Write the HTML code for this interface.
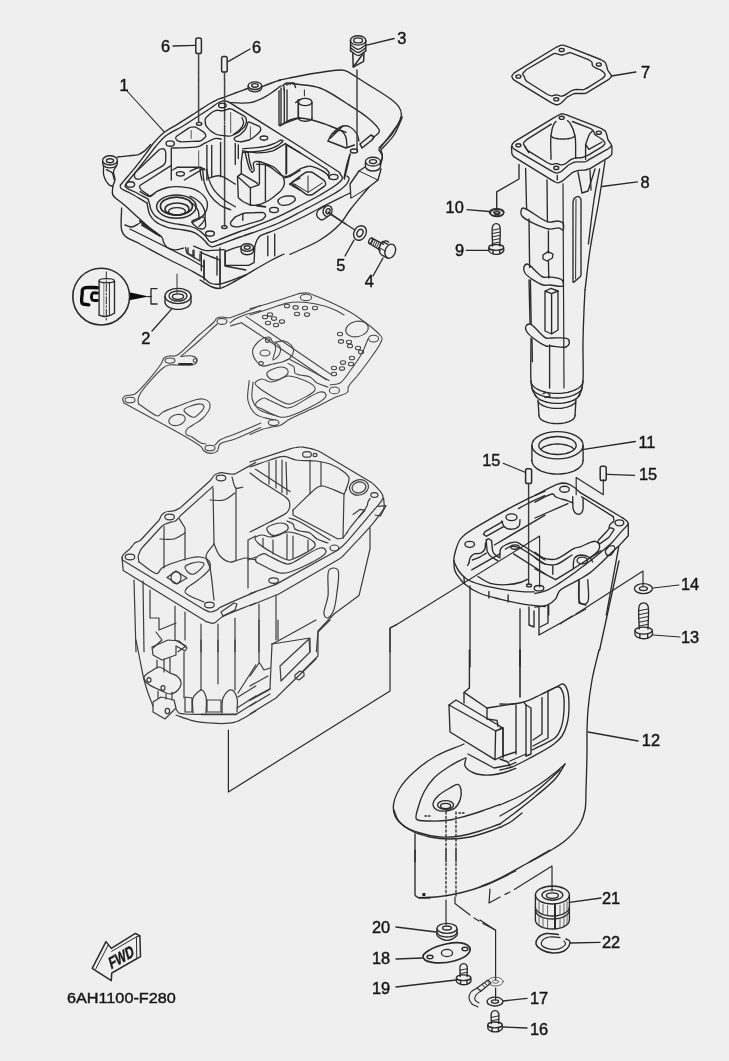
<!DOCTYPE html>
<html><head><meta charset="utf-8"><title>diagram</title><style>
html,body{margin:0;padding:0;}
body{width:729px;height:1061px;overflow:hidden;background:#efefef;font-family:"Liberation Sans",sans-serif;}
svg{position:absolute;left:0;top:0;display:block;}
.ln{fill:none;stroke:#2b2b2b;stroke-width:1.35;stroke-linecap:round;stroke-linejoin:round;}
.tx{font-family:"Liberation Sans",sans-serif;fill:#1a1a1a;stroke:#1a1a1a;stroke-width:0.45;}
</style></head><body>
<svg width="729" height="1061" viewBox="0 0 729 1061">
<defs><filter id="bl" x="-2%" y="-2%" width="104%" height="104%"><feGaussianBlur stdDeviation="0.45"/></filter></defs>
<rect width="729" height="1061" fill="#efefef"/>
<g filter="url(#bl)">
<g class="ln">
<path d="M127 91 L164 131.6" stroke-width="1.1"/>
<path d="M247.5 88.5 C243.4 90 239.5 91.5 235.3 93 C231 94.6 225.6 96.6 222 98 C219.6 98.9 218 99.4 216 100.3 C214 101.2 212.4 102.1 210 103.5 C206.3 105.7 201 109.3 196 112.5 C190.2 116.2 183.1 120.8 177.4 124.3 C172.7 127.2 168.3 129.1 164.3 132.3 C160.2 135.5 156.3 139.9 153.2 143.5 C150.7 146.5 149.4 148.8 147 152.1 C143.6 156.6 138.9 163 134.7 168.1 C130.7 173.1 124.9 179.5 122.5 182.5 C121.4 183.8 120.5 184.5 120.3 185.5 C120.1 186.4 120.3 187.4 121 188.3 C122.3 190 126.6 191.1 130 193 C134.8 195.7 141.3 199.7 147 203"/>
<path d="M340 172.7 L300 146.7 L228.5 101.9"/>
<path d="M228.5 101.9 C226.7 101.5 224.8 100.6 223 100.8 C221.3 101 219.7 102 218 103 C216 104.1 214.4 105.6 212 107.2 C208.7 109.4 204.4 112.2 200 115 C194.8 118.4 188.7 122.5 182.9 126 C177.2 129.5 170.3 132.2 165.6 136 C161.6 139.2 158.5 143.2 155.7 146.5 C153.3 149.3 151.9 151.5 149.5 154.6 C146.2 158.8 141.7 164.5 137.8 169.4 C134 174.2 128.2 180.7 126.3 183.5 C125.6 184.6 124.9 185.2 125 186 C125.1 186.8 126 187.5 127 188.3 C128.7 189.6 132 190.5 135 192 C138.8 193.9 143.7 196.7 148 199"/>
<path d="M117.4 157 C121.1 156.6 124.9 156.2 128.5 155.8 C131.9 155.4 135.6 155.5 138.4 154.6 C140.8 153.7 142.6 152.4 144.6 150.9 C146.7 149.1 148.7 146.6 150.7 144.4"/>
<path d="M134.9 177.4 Q134.1 176.2 134.4 174.7 L134.4 174.6 Q134.7 173.1 135.8 172.1 L158.9 150 Q160 149 161.5 148.9 L162.8 148.8 Q164.3 148.6 164.9 150 L165.2 150.7 Q165.8 152.1 165.8 153.6 L165.6 161.1 Q165.6 162.6 164.6 163.8 L164 164.5 Q163.1 165.7 161.8 166.4 L140.9 178.5 Q139.6 179.3 138.1 179.2 L137.4 179.1 Q135.9 179 135.1 177.8Z"/>
<ellipse cx="170.2" cy="143.5" rx="4.2" ry="2.7"/>
<ellipse cx="130.4" cy="184.4" rx="4.2" ry="2.7"/>
<ellipse cx="180.4" cy="173.8" rx="4" ry="2.2"/>
<ellipse cx="110" cy="160.4" rx="7.4" ry="4.6"/>
<ellipse cx="110" cy="160.7" rx="3.6" ry="2"/>
<path d="M102.6 161.1 C102.8 162.5 102.4 164.3 103.3 165.4 C104.4 166.8 107.7 167.8 110 167.8 C112.2 167.8 115.5 166.8 116.7 165.4 C117.6 164.3 117.2 162.5 117.4 161.1"/>
<path d="M103.6 165.7 C103.7 169 102.9 172.5 103.8 175.6 C104.8 178.9 107.3 183.3 109.3 184.9 C110.4 185.9 111.6 185.9 112.8 186.3"/>
<path d="M116.4 165.9 C115.4 167.8 113.9 169.3 113.5 171.4 C113.1 173.8 115.2 177.4 115 179.9 C114.8 182.1 113.5 183.9 112.8 185.9"/>
<path d="M106.4 169.7 C108.3 170.7 110.8 171.2 112.1 172.8 C113.5 174.5 113.5 177.6 114.3 179.9"/>
<path d="M112.8 186.3 C112.8 189.2 111.6 192.3 112.8 194.9 C114.4 198.3 119.6 200.7 123.5 204.2 C128.3 208.4 134.2 214 139.2 218.4 C143.7 222.5 148 226.5 152.1 229.9 C155.5 232.7 160.2 234.7 162 237.3 C163.3 239 162.9 241 163.8 242.7 C164.6 244.4 165.5 246.1 167 247.3 C168.9 248.7 172.2 249.7 174.9 249.8 C177.7 250 180.6 248.7 183.4 248.1"/>
<path d="M148 199 C148.5 200.7 149.1 202.3 149.6 204 C150.1 205.8 150.2 207.7 151 209.5 C151.9 211.6 153.1 213.9 155 215.7 C157.4 217.9 161.3 219.8 164.7 221.2 C168.2 222.6 172.1 223.2 175.7 223.9 C179 224.5 182.1 224.6 185.3 225.3 C188.5 226 191.8 226.5 194.9 228 C198.2 229.6 202.1 232.5 204.5 234.9 C206.3 236.7 207.2 239.1 208.6 240.4 C209.6 241.3 210.4 242.1 211.5 242.3 C212.8 242.5 214.4 241.6 216 241 C217.9 240.3 219.5 239.5 222 238.5 C226.4 236.7 235.3 233.2 240 231.5 C243 230.4 244.2 230.2 247.4 229 C253.7 226.7 265.8 222.2 274.9 218.2 C284.1 214.1 294.2 208.7 302.3 204.5 C308.9 201.1 314.1 198.4 320 195 C326 191.5 334.2 186.8 338 183.5 C340.2 181.6 342.2 180.1 342.4 178.4 C342.6 176.8 340.8 175.2 340 173.6"/>
<path d="M147 203 C147.9 206.8 148.1 211.1 149.6 214.3 C150.9 217.1 152.5 219.2 155 221.2 C158.1 223.7 162.9 225.8 167.4 227.3 C172.4 228.9 179 229 183.9 230 C188 230.8 191.5 231.1 194.9 232.8 C198.4 234.5 202.1 238 204.5 240.4 C206.3 242.1 207.2 244.1 208.6 245.2 C209.7 246 210.6 246.7 212 246.8 C214.3 247 217.5 245.2 221 244 C226.2 242.2 235.1 238.7 240 237 C243 235.9 244.1 235.7 247.4 234.5 C254.1 232.2 267.9 227.7 277.6 223.5 C287.1 219.4 297.2 213.5 305 209.5 C310.8 206.5 314.7 204.5 320 201.5 C326.2 198.1 335.2 193.5 340 190 C343.1 187.7 345.5 185.8 347 183.5 C348.2 181.7 349.3 179.3 349 178 C348.8 177.1 347.7 176.7 347 176"/>
<path d="M193.7 246.2 C197.4 247.6 200.4 249.6 204.7 250.3 C210.1 251.2 217.5 249.8 223.9 249.6"/>
<path d="M140 191.7 C143.4 193.3 147.4 196.8 150.3 196.5 C152.7 196.2 154 193 156.5 191.7 C159.5 190 163.5 188.4 167.4 187.5 C171.7 186.7 176.6 186.5 181.2 186.9 C185.7 187.2 191 188 194.9 189.6 C198.1 190.9 201 192.9 203.1 195.1 C205 197.1 206.6 199.5 207.2 201.9 C207.8 204.5 207.4 207.7 206.5 210.2 C205.6 212.7 203.7 215.2 201.7 217 C199.8 218.8 196.7 220.2 194.9 221.2 C193.8 221.8 193 222.1 192.1 222.5"/>
<path d="M192.1 222.5 Q191.4 221.2 192.8 220.6 L201 217 Q202.4 216.4 203.6 217.3 L204 217.5 Q205.2 218.4 205.3 219.9 L205.7 225.1 Q205.8 226.6 204.8 227.7 L204.2 228.3 Q203.1 229.4 201.6 229 L199.1 228.4 Q197.6 228 196.5 227 L194 224.9 Q192.8 223.9 192.1 222.6Z"/>
<path d="M140 221.2 L148.2 227.3 L156.5 233.5" stroke-width="2.2"/>
<path d="M254.8 246.2 C255.5 244.1 256 241.8 257 240 C257.9 238.4 258.9 236.9 260.2 235.9 C261.5 234.9 263.1 234.6 265 233.8 C267.7 232.7 270.8 231.8 275 230 C282.4 226.9 296.8 220.1 305 216 C310.9 213.1 314.1 211 320 208 C328.3 203.7 340 198 350 193"/>
<ellipse cx="247.2" cy="247.5" rx="6.2" ry="3.8"/>
<ellipse cx="247.2" cy="247.5" rx="3" ry="1.8"/>
<path d="M241 248.2 C241.2 249.6 240.7 251.3 241.5 252.3 C242.4 253.6 245.3 254.7 247.2 254.7 C249.1 254.7 252 253.6 253 252.3 C253.8 251.3 253.3 249.6 253.4 248.2"/>
<path d="M225.3 251.6 L225.3 265.4 L248.6 265.4 L254.1 262.6 L254.8 246.2"/>
<path d="M267.8 235.9 L267.8 255.8"/>
<path d="M274.7 233.8 L274.7 255.8"/>
<path d="M217 256.4 L217 275"/>
<path d="M201.3 251.6 L201.3 270.8"/>
<path d="M185.5 247.5 L186.9 253 L193 255.8 L193 250.3"/>
<path d="M225.3 251.6 C228.5 250.4 232.1 248.7 234.9 247.8 C236.9 247.1 238.5 246.9 240.4 246.4"/>
<path d="M142 225 L160 236" stroke-width="2"/>
<path d="M121.6 208 C121.6 215.3 120.3 225.1 121.6 230 C122.3 232.8 123.1 234.1 125 236 C128 239 134.3 241 140 244 C147.5 248 157.5 253.6 166 258 C174.1 262.2 183.1 266.3 190 270 C195.3 272.9 200.4 275.5 204 278 C206.5 279.7 207.6 282 210 283 C212.8 284.2 216 284.5 220 284 C226.7 283.2 237.2 278 245.8 275"/>
<path d="M125 225 C127.3 225.7 129.6 227.2 132 227 C134.6 226.8 137.3 224.3 140 223"/>
<path d="M130 229 L160 244 L190 259 L204 267"/>
<path d="M188 248 L188 254 L200 261 L200 254"/>
<path d="M194 250 L194 258"/>
<path d="M220 248 L220 283"/>
<path d="M225 250 L225 266 L245.8 270"/>
<path d="M204 261 L204 278"/>
<ellipse cx="176.4" cy="206.6" rx="19.8" ry="11.6" stroke-width="1.5"/>
<ellipse cx="176.4" cy="206.2" rx="16" ry="9" stroke-width="1.7"/>
<ellipse cx="177" cy="209" rx="12" ry="6" stroke-width="1.5"/>
<ellipse cx="177" cy="211.4" rx="8.4" ry="3.8"/>
<path d="M171 165.6 L140.3 185.2 Q139 186 139.7 187.3 L140.3 188.7 Q141 190 142.2 190.8 L148.8 195.2 Q150 196 151.3 195.2 L155 193"/>
<path d="M200 168 C200.2 170 200.3 172 200.6 174 C200.9 176 201.5 178 202 180"/>
<path d="M198.6 80 L198.6 122.3" stroke-width="1.5" stroke="#444"/>
<ellipse cx="199.1" cy="123.8" rx="2.7" ry="1.5"/>
<path d="M224.6 80 L224.6 120.4" stroke-width="1.5" stroke="#444"/>
<path d="M224.6 125.3 L224.6 226.1" stroke-width="1.5" stroke="#444"/>
<path d="M224.6 121.9 L224.6 123.8" stroke-width="1.5" stroke="#444"/>
<ellipse cx="224.4" cy="227.1" rx="2.7" ry="1.5"/>
<ellipse cx="254.9" cy="85.7" rx="6.8" ry="3.8"/>
<ellipse cx="254.9" cy="85.4" rx="3.3" ry="1.8"/>
<path d="M248.1 86.3 C248.2 87.3 247.9 88.5 248.5 89.4 C249.5 90.6 252.8 91.8 254.9 91.8 C257 91.8 260.2 90.6 261.2 89.4 C261.9 88.5 261.5 87.3 261.7 86.3"/>
<path d="M261.7 86.8 C264.9 85.5 268.3 84.2 271.5 83 C274.6 81.9 277.5 81 280.5 80"/>
<ellipse cx="222.4" cy="105.4" rx="3.8" ry="2.3"/>
<path d="M286.6 144.9 L300 152.7"/>
<path d="M230.7 102.6 C237.3 102.6 244.4 103.8 250.4 102.6 C255.8 101.6 261.2 98.9 265.4 96.6 C269 94.8 271.8 92.5 274.5 90.6 C276.7 89 278.5 87.5 280.5 86"/>
<path d="M279 90.6 L279 125.3 L300 117.7"/>
<path d="M284.3 89.1 L284.3 123.5"/>
<path d="M282 86 C283.6 85 284.8 83.4 286.6 83 C288.7 82.6 292.7 83.4 294.1 84.5 C295.1 85.3 295.1 86.5 295.6 87.5"/>
<path d="M295.6 102.6 L300 99.6"/>
<path d="M298.3 99.6 L298.3 117.7"/>
<path d="M205.1 120.5 Q204.9 118.5 206.4 117.2 L210.2 113.7 Q211.7 112.3 213.6 111.5 L215.4 110.7 Q217.2 109.9 219.1 110.4 L219.4 110.5 Q221.3 111 223.3 110.6 L223.5 110.6 Q225.4 110.3 227.2 109.4 L227.2 109.4 Q228.9 108.5 230.6 108.9 L230.6 108.9 Q232.3 109.3 234 110.3 L244.3 116.2 Q246 117.1 246.3 119.1 L246.4 120 Q246.7 121.9 245.9 123.8 L245.4 124.9 Q244.7 126.7 243.2 128.1 L239.3 131.6 Q237.8 132.9 236 133.7 L232.1 135.5 Q230.2 136.4 228.3 136.1 L219.2 135.2 Q217.2 135 215.5 134 L212.1 131.9 Q210.4 130.9 209 129.4 L206.9 126.9 Q205.6 125.4 205.4 123.4Z"/>
<path d="M175.7 138.4 Q175.4 137 176.9 136 L188.3 128.4 Q189.8 127.4 191.6 127.2 L193.5 127 Q195.3 126.7 196.8 127.7 L203.4 131.9 Q204.9 132.9 205.5 134.6 L205.6 134.7 Q206.2 136.4 204.9 137.5 L202.1 140 Q200.8 141.2 199 141.2 L181.3 141.8 Q179.5 141.8 177.9 140.9 L177.6 140.7 Q176.1 139.8 175.7 138.4Z"/>
<path d="M191.2 130.5 L191.2 138.4" stroke-width="1" stroke="#555"/>
<path d="M172.6 148 C181.1 147.6 192.3 148.1 198 146.6 C201.1 145.8 202.3 144.4 204.9 143.2 C208.1 141.7 212.8 138.9 215.8 138.4 C217.9 138.1 219.5 138.9 221.3 139.1"/>
<path d="M171.3 148 L171.3 180"/>
<path d="M198.7 150.8 L198.7 165.8" stroke-width="1" stroke="#555"/>
<path d="M206.9 145.3 L206.9 180"/>
<path d="M211.7 145.3 L211.7 176.8"/>
<path d="M220.6 142.5 L220.6 176.8"/>
<path d="M172.6 170 L177.4 167.2 L200.8 167.2 L204.9 170"/>
<path d="M184.3 180 L203.5 168.6"/>
<path d="M242.7 150.8 C247.3 151.4 251.7 152.8 256.5 152.8 C261.7 152.9 268.3 152.3 272.9 150.8 C276.7 149.5 280.3 146.6 282.5 145.3 C283.7 144.6 284.4 144.2 285.3 143.6"/>
<path d="M285.3 143.6 L326.4 169.3"/>
<path d="M326.4 169.3 C327.3 170.4 329 171.6 329.2 172.7 C329.3 173.6 328.2 174.5 327.8 175.4"/>
<path d="M286 145.3 L286 174.1"/>
<path d="M256.5 164.1 C260.1 164.6 263.8 164.1 267.4 165.5 C272 167.2 277.5 173.4 281.2 175.1 C283.3 176.1 284.4 176.7 286.6 176.5 C290.5 176 297.6 170 301.7 168.2 C304.4 167.1 306.2 166.2 308.6 166.2 C311.2 166.1 314 167 316.8 168.2 C320.3 169.7 326 172.9 327.8 175.1 C328.8 176.3 328.7 177.4 329.2 178.5"/>
<path d="M242.1 117.7 C242.6 119.5 243.8 121.2 243.6 123 C243.3 125.2 241.4 127.9 239.8 129.8 C238.2 131.7 235.8 132.8 233.8 134.3"/>
<path d="M247.7 123 Q248.1 121.5 249.5 122.1 L258.8 126.2 Q260.2 126.8 260.5 128.2 L260.6 129.1 Q260.9 130.6 259.9 131.6 L257.5 134 Q256.4 135.1 255.2 136 L251.6 138.7 Q250.4 139.6 248.9 140 L242.8 141.5 Q241.3 141.9 239.8 141.7 L236.8 141.3 Q235.3 141.1 234.6 139.8 L234.4 139.4 Q233.8 138.1 235.1 137.4 L238.5 135.7 Q239.8 135.1 240.9 134 L244 130.9 Q245.1 129.8 245.7 128.4 L246.8 125.9 Q247.3 124.5 247.7 123.1Z"/>
<ellipse cx="263.9" cy="138.1" rx="3.8" ry="2.1"/>
<path d="M242.8 148.7 C246.3 148.4 249.7 148.3 253.4 147.9 C257.3 147.5 261.8 147.2 265.4 146.4 C268.7 145.7 271.8 144.5 274.5 143.4 C276.8 142.4 278.5 141.2 280.5 140.1"/>
<path d="M242.8 152.4 C246.8 152.2 250.8 152.1 254.9 151.7 C259.3 151.2 264.5 150.6 268.5 149.4 C271.9 148.4 275.1 147.1 277.5 145.6 C279.5 144.5 280.7 143.1 282.3 141.9"/>
<path d="M280.5 140.1 C281.3 140.2 282.6 140 282.8 140.4 C283 140.7 282.5 141.4 282.3 141.9"/>
<path d="M230.7 112.4 L230.7 132.8" stroke-width="1" stroke="#555"/>
<path d="M250.4 126.8 L250.4 138.9" stroke-width="1" stroke="#555"/>
<path d="M242.8 150.9 L241.3 161.5 L241.3 173.6 L256.4 182.6 L258.7 184.9 L250.4 187.9 L237.5 176.6 L241.3 173.6"/>
<path d="M237.5 176.6 L238.3 197.7 L242.8 201.5 L250.4 205.2"/>
<path d="M250.4 187.9 L250.4 205.2"/>
<path d="M245.1 152.4 C245.8 155.4 246.6 158.6 247.3 161.5 C248.1 164.1 248.6 167.1 249.6 169 C250.3 170.4 251.3 171.2 252.2 172.3"/>
<path d="M248.1 152.4 C248.6 155.4 248.9 158.6 249.6 161.5 C250.2 164.1 251.1 166.5 251.9 169"/>
<path d="M252.2 172.3 C252.8 171.7 253.8 171.5 254.1 170.5 C254.7 169.1 252.9 165.3 253.4 163.7 C253.7 162.7 254.4 161.9 255.2 161.5 C256.1 161.1 257.3 161.3 258.7 161.5 C260.6 161.8 263 162.8 265.4 163.7 C268.3 164.8 271.9 165.8 274.5 167.5 C276.9 169.1 278.9 171.6 280.5 173.6 C281.8 175.1 282.9 176.4 283.6 178.1 C284.2 179.9 284.6 182.2 284.3 184.1 C284 186.2 282.7 188.3 281.3 190.2 C279.6 192.3 277 194.3 274.5 196.2 C271.8 198.3 268.6 200.7 265.4 202.2 C262.5 203.7 259.1 204.8 256.4 205.2 C254.2 205.6 252.4 205.2 250.4 205.2"/>
<path d="M259.4 162.2 L259.4 184.1"/>
<path d="M265.4 164.5 L265.4 200.7"/>
<path d="M235.3 143.4 L235.3 164.5"/>
<path d="M238.3 144.9 L238.3 158.5"/>
<path d="M256.4 205.5 L265.4 206.8" stroke-width="1.8"/>
<path d="M283.6 178.1 L289.6 176.6 L300 170.5"/>
<path d="M286.6 145.2 L286.6 173.6"/>
<path d="M289.6 184.1 L300 190.2"/>
<path d="M289.6 184.1 L295.6 180.3 L300 178.1"/>
<path d="M242.8 214.3 L242.8 220.3"/>
<path d="M190 196.2 C192 197.2 194.1 197.8 196 199.2 C198.2 200.8 200.6 202.9 202.1 205.2 C203.6 207.5 204.7 210.2 205.1 212.8 C205.4 215.3 205.3 218.1 204.3 220.3 C203.3 222.6 200.8 224.4 199.1 226.4"/>
<path d="M190 202.2 C191.5 203.2 193.2 203.9 194.5 205.2 C196 206.8 197.5 209.1 198.3 211.3 C199.1 213.6 198.8 216.3 199.1 218.8"/>
<path d="M202.8 170.5 C203.3 174.6 203.2 178.7 204.3 182.6 C205.5 186.7 207.1 191 209.6 194.7 C212.3 198.6 216.4 202.7 220.2 205.2 C223.5 207.5 227.2 208.3 230.7 209.8"/>
<path d="M206.6 169 C207.4 172.6 207.7 176.1 208.9 179.6 C210.1 183.2 211.8 186.9 214.1 190.2 C216.6 193.5 219.8 196.5 223.2 199.2 C226.8 202.1 231.2 204.2 235.3 206.8"/>
<path d="M190 171.3 C193 170 196.4 167.7 199.1 167.5 C201 167.4 202.6 168.5 204.3 169"/>
<path d="M208.1 178.1 C212.1 177.3 216.1 175.2 220.2 175.8 C225.1 176.6 230.2 181.4 235.3 184.1"/>
<path d="M279 80.2 C282 79.6 284.3 79.1 288 78.4 C293.7 77.3 302 75.3 310 74 C319.6 72.4 336 69.6 342 70 C344.4 70.2 344.9 70.5 347 71.4 C351.1 73.2 357.6 78 364 82 C372.2 87.2 385.9 95.1 392 100 C395.3 102.7 397.4 104.5 399 107 C400.4 109.2 401.3 111.7 401.4 114 C401.5 116.1 400.9 117.7 400 120 C398.5 123.8 395.3 129.5 392 134 C388.4 138.9 383.3 143.3 379 148"/>
<path d="M402.4 117 C399.6 123 397.5 129.6 394 135 C390.5 140.3 385.6 144.6 381.4 149.4"/>
<path d="M296 84 C304 85.3 312.1 85.2 320 88 C328.8 91.1 337.8 97.8 346 103 C353.7 107.9 362.3 113.2 368 118 C372.2 121.5 376.3 125.3 378 128 C378.9 129.4 379.7 130.4 379.4 131.6 C379 133.3 375.8 135.2 374 137"/>
<path d="M286 84.4 L293 82.6 L296 84.4"/>
<path d="M287 85.6 L289 83.6" stroke-width="1"/>
<path d="M290 85 L292 83" stroke-width="1"/>
<path d="M281 88 L281 124"/>
<path d="M287 90 L287 122"/>
<path d="M284 86 L284 90"/>
<path d="M280 126 C283.3 124 286.8 121.3 290 120 C292.7 118.9 294.9 118.2 298 118 C302 117.8 307.1 118.8 312 120 C317.7 121.3 324.2 123.9 330 126 C335.5 128 340.7 130.3 346 132.4"/>
<ellipse cx="305.2" cy="102" rx="6.8" ry="3.6"/>
<path d="M298.4 102.4 L298.4 118"/>
<path d="M312 102.4 L312 118.4"/>
<path d="M312 118 C312 118.2 312 118.3 311.9 118.5 C311.9 118.6 311.8 118.8 311.7 118.9 C311.6 119.1 311.5 119.2 311.4 119.3 C311.2 119.5 311.1 119.6 310.9 119.7 C310.7 119.9 310.5 120 310.3 120.1 C310.1 120.2 309.9 120.3 309.7 120.4 C309.4 120.5 309.1 120.6 308.9 120.7 C308.6 120.8 308.3 120.8 308 120.9 C307.7 121 307.4 121 307.1 121.1 C306.8 121.1 306.5 121.1 306.2 121.2 C305.8 121.2 305.5 121.2 305.2 121.2 C304.9 121.2 304.6 121.2 304.2 121.2 C303.9 121.1 303.6 121.1 303.3 121.1 C303 121 302.7 121 302.4 120.9 C302.1 120.8 301.8 120.8 301.5 120.7 C301.3 120.6 301 120.5 300.7 120.4 C300.5 120.3 300.3 120.2 300.1 120.1 C299.9 120 299.7 119.9 299.5 119.7 C299.3 119.6 299.2 119.5 299 119.3 C298.9 119.2 298.8 119.1 298.7 118.9 C298.6 118.8 298.5 118.6 298.5 118.5 C298.4 118.3 298.4 118.2 298.4 118"/>
<path d="M304.4 90 L304.4 96" stroke-width="1"/>
<path d="M328 141 C329.3 138.7 330 136.2 332 134 C334.6 131.1 339.6 126.8 343 126 C345.5 125.4 347.8 125.9 350 127 C352.6 128.3 355.5 131.5 357 134 C358.3 136.2 358.3 138.7 359 141"/>
<path d="M328 141 L346 148 L354.4 145"/>
<path d="M332 134 C334.7 132.8 337.7 129.9 340 130.4 C342.2 130.8 344.4 133.9 345.6 136.4 C346.9 139.1 346.5 143.1 347 146.4"/>
<path d="M343 126 L330 138.4"/>
<path d="M357 70 L357 150.4" stroke-width="1.5" stroke="#444"/>
<path d="M360 144 L371 135 L374 137 L372 140 L362 148 L360 144" stroke-width="1.6"/>
<ellipse cx="354" cy="151" rx="3.6" ry="2"/>
<ellipse cx="373" cy="161.6" rx="7.6" ry="4.4"/>
<ellipse cx="373" cy="161.6" rx="3.6" ry="2"/>
<path d="M365.4 162.4 C365.6 164.3 365 166.6 366 168 C367.2 169.6 370.7 171 373 171 C375.3 171 378.8 169.6 380 168 C381 166.6 380.4 164.3 380.6 162.4"/>
<path d="M350 154 C349.3 157.3 348.8 160.3 348 164 C347 168.5 345.6 174 344.4 179"/>
<path d="M381 150 C381.5 152 382.4 154 382.4 156 C382.4 158 381.5 160 381 162"/>
<path d="M401 120 L379 150" stroke-width="1.2"/>
<path d="M380.4 165 C381.1 162 382.8 158.6 382.4 156 C382.1 153.7 380.1 152 379 150"/>
<path d="M365 167 L359 171 L350 184 L351 198 L369 187 L378 180 L381 169"/>
<path d="M359 171 L378 180" stroke-width="1"/>
<path d="M352.0 186.0 L368.0 176.0 L369.0 186.4 L351.6 197.2 Z" fill="#efefef" stroke="none"/>
<path d="M350 154.4 C349 157.6 347.9 160.5 347 164 C345.9 168.2 345 173.3 344 178"/>
<ellipse cx="327.6" cy="211" rx="4.4" ry="5.4" transform="rotate(20 327.6 211)"/>
<ellipse cx="328" cy="211.2" rx="2" ry="2.6" transform="rotate(20 328 211.2)"/>
<path d="M324.4 206.4 C322.1 207.9 318.7 209.1 317.6 211 C316.7 212.5 316.4 214.6 317 216 C317.7 217.6 320.2 219.9 322 220 C323.8 220.1 325.7 217.7 327.6 216.6"/>
<path d="M330 214 L355 230"/>
<ellipse cx="360" cy="233" rx="6" ry="7.6" transform="rotate(30 360 233)"/>
<ellipse cx="360" cy="233" rx="2.8" ry="3.8" transform="rotate(30 360 233)"/>
<path d="M354 240 L345 256"/>
<ellipse cx="390.2" cy="251.2" rx="5.1" ry="7.2" transform="rotate(20 390.2 251.2)"/>
<path d="M381.3 254.3 C381.1 254.2 380.9 254 380.8 253.9 C380.6 253.7 380.4 253.5 380.3 253.3 C380.1 253 380 252.8 379.8 252.5 C379.7 252.3 379.6 252 379.5 251.7 C379.4 251.4 379.4 251.1 379.3 250.8 C379.3 250.5 379.2 250.2 379.2 249.9 C379.2 249.6 379.2 249.2 379.2 248.9 C379.3 248.6 379.3 248.2 379.4 247.9 C379.4 247.5 379.5 247.2 379.6 246.9 C379.7 246.5 379.8 246.2 379.9 245.9 C380.1 245.6 380.2 245.3 380.4 244.9 C380.5 244.6 380.7 244.3 380.9 244.1 C381.1 243.8 381.3 243.5 381.5 243.3 C381.7 243 381.9 242.8 382.2 242.6 C382.4 242.3 382.6 242.1 382.9 242 C383.1 241.8 383.4 241.6 383.6 241.5 C383.9 241.4 384.1 241.3 384.4 241.2 C384.7 241.1 384.9 241 385.2 241 C385.4 240.9 385.7 240.9 385.9 240.9 C386.2 240.9 386.4 241 386.7 241 C386.9 241.1 387.2 241.2 387.4 241.3 C387.6 241.4 387.8 241.5 388 241.6 C388.2 241.8 388.4 242 388.6 242.1"/>
<path d="M382.3 241.4 L387.9 244.3"/>
<path d="M381.8 255.2 L387.6 258.1"/>
<path d="M380 247.9 L385.6 251.2" stroke-width="1"/>
<path d="M371.9 238.1 L383.6 244.3"/>
<path d="M369.1 243.5 L380.3 250.2"/>
<ellipse cx="370.5" cy="240.7" rx="1.5" ry="3" transform="rotate(25 370.5 240.7)"/>
<path d="M373.7 239.1 L370.9 244.5" stroke-width="1"/>
<path d="M375.6 240 L372.8 245.6" stroke-width="1"/>
<path d="M377.4 241 L374.6 246.6" stroke-width="1"/>
<path d="M379.2 242 L376.4 247.6" stroke-width="1"/>
<path d="M381 243 L378.2 248.7" stroke-width="1"/>
<path d="M383 258 L373 276"/>
<path d="M369 187 C362.7 194.7 355.2 203.2 350 210 C346 215.2 344.3 219.5 340 224 C334.8 229.5 327.7 235.2 320 240 C311.3 245.5 300 249.6 290 254.4"/>
<ellipse cx="333.6" cy="177" rx="4.4" ry="2.6"/>
<path d="M292.2 183.9 Q291 183 292.2 182.1 L304.8 172.9 Q306 172 307.5 172 L310.5 172 Q312 172 313.2 172.9 L323.8 180.1 Q325 181 325.4 182.5 L325.6 183.5 Q326 185 324.8 185.9 L313.2 194.1 Q312 195 310.5 195 L308.5 195 Q307 195 305.8 194.1Z"/>
<path d="M308 176 L308 192.4" stroke-width="1"/>
<path d="M294 183.6 L308 192.4 L322.4 183" stroke-width="1"/>
<path d="M278.4 202.6 Q277 200 279.6 198.5 L281.4 197.5 Q284 196 287 196 L291 196 Q294 196 295 198 L295 198 Q296 200 293.6 201.7 L291.4 203.3 Q289 205 286 205.2 L283 205.4 Q280 205.6 278.6 203Z"/>
<ellipse cx="274" cy="210" rx="4.4" ry="2.6"/>
<path d="M230.8 224.3 Q230 223 231 221.8 L234 218.2 Q235 217 236.4 216.4 L242.6 213.6 Q244 213 245.5 213 L262.5 212.4 Q264 212.4 264.7 213.7 L265.3 214.7 Q266 216 264.9 217.1 L263.1 218.9 Q262 220 260.6 220.4 L239.4 226.6 Q238 227 236.5 226.9 L233.5 226.5 Q232 226.4 231.2 225.1Z"/>
<ellipse cx="210" cy="233.6" rx="4.4" ry="2.6"/>
<path d="M200 252 C204 253.7 208.4 255.6 212 257 C214.9 258.2 217.3 259 220 260"/>
<path d="M200 280 C204 282.3 208.3 285.6 212 287 C214.8 288 217.6 288.7 220 288.4 C222.2 288.2 223.1 287.4 226 286 C234 282.2 259.4 266.7 270 261 C275.9 257.8 279.3 256.3 284 254"/>
<path d="M204 260 L204 280"/>
<path d="M220 260 L220 288"/>
<path d="M328 212 L345.8 224"/>
<path d="M512.1 77.3 Q511.5 76.2 512.2 75.3 L513.3 73.9 Q514 72.9 515 72.3 L554.9 48 Q556 47.4 557.1 46.9 L560.6 45.4 Q561.7 44.9 562.9 45.2 L565.5 45.9 Q566.7 46.3 567.8 46.7 L599.3 59 Q600.4 59.4 601.5 60 L604.3 61.6 Q605.3 62.2 605.7 63.4 L606.6 66 Q607 67.2 607.3 68.3 L607.5 69.3 Q607.8 70.5 608.5 71.4 L611.2 75.2 Q611.9 76.2 611.1 77.1 L609.5 78.7 Q608.6 79.5 607.6 80.1 L590.7 90.4 Q589.7 91 588.7 91.6 L586.6 92.9 Q585.6 93.5 584.4 93.5 L575.3 93.5 Q574.1 93.5 573 94 L568.6 96.3 Q567.5 96.8 566.6 97.6 L561.8 102.5 Q560.9 103.4 559.8 103.8 L557.9 104.6 Q556.8 105 555.7 104.6 L553.8 103.8 Q552.7 103.4 551.6 102.8 L514.2 80.1 Q513.2 79.5 512.6 78.4Z"/>
<path d="M524.7 77.9 Q524.7 77 524 76.1 L522.9 74.7 Q522.2 73.7 523.1 72.9 L525.5 70.5 Q526.3 69.6 527.4 69 L553.3 53.8 Q554.3 53.2 555.5 53.5 L556.4 53.7 Q557.6 54 558.8 54.3 L560.6 54.8 Q561.7 55.1 562.9 54.8 L564.7 54.3 Q565.8 54 567 53.5 L568.8 52.8 Q570 52.3 571.1 52.8 L587.8 59.3 Q588.9 59.8 589.8 60.5 L591.2 61.5 Q592.2 62.2 592.2 63.4 L592.2 64.3 Q592.2 65.5 593.1 66.2 L594.5 67.3 Q595.5 68 596.6 68.4 L599.3 69.3 Q600.4 69.6 601.3 70.4 L603.6 72.2 Q604.5 72.9 604.9 74.1 L605 74.3 Q605.3 75.4 604.6 76.3 L603.7 77.3 Q602.9 78.2 601.9 78.8 L588.3 87.4 Q587.2 88.1 586.1 88.5 L584.2 89.3 Q583.1 89.7 581.9 89.7 L576.1 89.4 Q574.9 89.4 573.8 89.8 L571.9 90.6 Q570.8 91 569.8 91.7 L566 94.4 Q565 95.1 563.9 95.5 L562.1 96 Q560.9 96.3 559.8 95.9 L557.9 95.1 Q556.8 94.7 555.6 95 L553 95.7 Q551.9 96 550.7 95.7 L549.7 95.4 Q548.6 95.1 547.5 94.5 L527.4 81.8 Q526.3 81.2 525.7 80.2 L525.4 79.7 Q524.7 78.7 524.7 77.9Z"/>
<ellipse cx="561.7" cy="49.9" rx="2.5" ry="1.6"/>
<ellipse cx="518.4" cy="76.5" rx="2.5" ry="1.6"/>
<ellipse cx="598.8" cy="64.4" rx="2.5" ry="1.6"/>
<ellipse cx="556.3" cy="99.3" rx="2.5" ry="1.6"/>
<path d="M611.4 76 L635.8 72"/>
<path d="M512.1 146.4 Q511.5 145.3 512.2 144.4 L513.3 143 Q514 142 515 141.4 L554.9 117.1 Q556 116.5 557 116 L560.7 114.1 Q561.7 113.6 562.9 113.9 L565.5 114.6 Q566.7 114.9 567.8 115.3 L599.3 127.6 Q600.4 128 601.4 128.7 L604.3 130.4 Q605.3 131 605.8 132.1 L606.6 134.3 Q607 135.5 607.2 136.6 L607.6 138.4 Q607.8 139.6 608.5 140.5 L611.2 144.4 Q611.9 145.3 611.1 146.2 L609.5 147.8 Q608.6 148.6 607.6 149.2 L590.8 158.7 Q589.7 159.3 588.7 159.9 L586.6 161.2 Q585.6 161.8 584.4 161.8 L576.1 161.8 Q574.9 161.8 573.8 162.3 L569.4 164.5 Q568.3 165.1 567.4 165.9 L561.8 170.9 Q560.9 171.7 559.8 172.1 L557.9 172.9 Q556.8 173.3 555.7 172.9 L553.8 172.1 Q552.7 171.7 551.6 171.1 L514.2 149.2 Q513.2 148.6 512.6 147.5Z"/>
<path d="M511.5 146.2 L511.8 152.9 Q511.9 154.4 512.8 155.5 L513 155.7 Q514 156.9 515.3 157.6 L551.4 179.9 Q552.7 180.7 554 181.4 L556.3 182.5 Q557.6 183.2 559 182.6 L561.2 181.6 Q562.6 181 563.7 180.1 L571.3 173.5 Q572.4 172.5 573.8 171.9 L576 171.1 Q577.4 170.5 578.9 170.4 L584.1 170.1 Q585.6 170 587 169.5 L589.1 168.8 Q590.5 168.4 591.8 167.6 L608.2 157.6 Q609.5 156.9 610.5 155.8 L610.9 155.4 Q611.9 154.4 611.9 152.9 L611.9 145.8"/>
<path d="M557.3 175.5 L557.3 179.9"/>
<path d="M551.4 124.1 L528.2 138.6 Q527.2 139.2 526.3 140.1 L523.9 142.4 Q523 143.2 523.6 144.2 L524.1 145.1 Q524.7 146.2 525.3 147.2 L526.5 149.2 Q527.2 150.3 528.2 150.9 L546.7 162.3 Q547.7 162.9 548.9 163.4 L550.7 164.1 Q551.9 164.6 553 164.3 L555.6 163.7 Q556.8 163.4 557.9 163.9 L559.8 164.6 Q560.9 165.1 562.1 164.8 L563.9 164.3 Q565 163.9 566 163.2 L569.8 160.4 Q570.8 159.7 571.9 159.2 L573.8 158.4 Q574.9 158 576.1 158 L581.1 157.7 Q582.3 157.7 583.4 157.2 L587 155.7 Q588.1 155.2 589.1 154.6 L601.9 146.8 Q602.9 146.2 603.7 145.3 L604.5 144.5 Q605.3 143.7 604.8 142.6 L604.2 141.5 Q603.7 140.4 602.7 139.7 L599.8 137.8 Q598.8 137.1 597.7 136.5 L595.7 135.2 Q594.7 134.6 594.4 133.5 L594.1 132.5 Q593.8 131.3 593 130.5 L592.2 129.7 Q591.4 128.9 590.2 128.4 L572.4 121.5"/>
<ellipse cx="561.7" cy="117.8" rx="2.5" ry="1.6"/>
<ellipse cx="518.4" cy="145.3" rx="2.5" ry="1.6"/>
<ellipse cx="598.8" cy="132.7" rx="2.5" ry="1.6"/>
<ellipse cx="556.3" cy="167.9" rx="2.5" ry="1.6"/>
<path d="M551 159.3 C551 151.4 550.3 141.8 551 135.5 C551.5 131.1 552.4 127.2 553.5 124.8 C554.2 123.2 555.1 122.6 556 121.5"/>
<path d="M575.7 157.7 C575.4 150.3 576.2 141.7 574.9 135.5 C573.9 130.6 571.6 125.6 570 123.1 C569.1 121.8 568.3 121.5 567.5 120.6"/>
<path d="M574.7 135.5 C574.7 135.6 574.7 135.8 574.6 136 C574.5 136.1 574.4 136.3 574.3 136.5 C574.1 136.6 573.9 136.8 573.7 137 C573.4 137.1 573.1 137.3 572.9 137.4 C572.5 137.6 572.2 137.7 571.8 137.8 C571.5 138 571.1 138.1 570.6 138.2 C570.2 138.3 569.8 138.4 569.3 138.5 C568.8 138.6 568.3 138.7 567.8 138.7 C567.3 138.8 566.8 138.9 566.2 138.9 C565.7 139 565.1 139 564.6 139 C564 139.1 563.4 139.1 562.9 139.1 C562.3 139.1 561.8 139.1 561.2 139 C560.6 139 560.1 139 559.5 138.9 C559 138.9 558.5 138.8 558 138.7 C557.5 138.7 557 138.6 556.5 138.5 C556 138.4 555.6 138.3 555.1 138.2 C554.7 138.1 554.3 138 553.9 137.8 C553.6 137.7 553.2 137.6 552.9 137.4 C552.6 137.3 552.3 137.1 552.1 137 C551.9 136.8 551.7 136.6 551.5 136.5 C551.4 136.3 551.2 136.1 551.1 136 C551.1 135.8 551.1 135.6 551 135.5"/>
<path d="M585.6 144.5 C587 140.9 588.3 136 589.7 133.8 C590.5 132.6 591.4 132.2 592.2 131.3"/>
<path d="M585.6 159.3 L585.6 144.5 L588.9 149.4 L602.1 142"/>
<path d="M524.7 146.2 L528.8 152.7"/>
<path d="M602 186.5 L637.4 181.9"/>
<path d="M519 164.5 L519 179 L496.7 191.9 L496.7 208"/>
<path d="M521 211 C521.2 209.8 521.7 208.3 523 208 C526.6 207.1 541.4 220.6 548 222 C551.9 222.8 555.3 220.6 558 221 C560 221.3 562.1 221.7 563 223 C564 224.5 563.9 229.4 563 230 C562.3 230.5 560.7 228.3 559 228 C556.5 227.5 553 229.7 549 229 C542.1 227.8 525.2 220.1 522 216 C520.7 214.3 520.7 212.4 521 211Z"/>
<path d="M525.6 168.4 L526.6 209.6"/>
<path d="M529 219 L529.6 267.6"/>
<path d="M530.4 280 L531.2 324.4"/>
<path d="M532 339 L532.4 361.8"/>
<path d="M547 180 L547.4 221"/>
<path d="M548.4 231 L548.4 253"/>
<path d="M548.4 260.4 L548.8 278"/>
<path d="M549.6 345 L549.6 388"/>
<path d="M563 183.6 L564 388" stroke-width="1.2"/>
<path d="M573.6 199.8 Q574 198.4 575.3 197.6 L576.7 196.8 Q578 196 579.2 196.9 L579.8 197.5 Q581 198.4 581 199.9 L581 274.5 Q581 276 579.9 277 L574.1 282 Q573 283 573 281.5 L573 203.1 Q573 201.6 573.4 200.2Z"/>
<path d="M576 199.6 L575.6 279" stroke-width="1"/>
<path d="M605 161 C603 174 601.3 186.2 599 200 C596.4 215.6 592.4 234.2 590 250 C587.9 264 586.7 276.7 585 290"/>
<path d="M599.6 169 C597.7 179.3 595.7 188.7 594 200 C591.9 213.4 590.3 229.3 588.4 244"/>
<path d="M578 172 L582 193 L588 191 L595 169"/>
<path d="M590 170 L591 190"/>
<ellipse cx="497" cy="213" rx="6.6" ry="3.6"/>
<ellipse cx="497" cy="213" rx="2.8" ry="1.4"/>
<path d="M529 280 L530 323"/>
<path d="M531 338 C531 352.3 530.3 372 531 381 C531.3 385.1 531.4 387.3 532.4 390 C533.3 392.6 535.1 394.7 536.4 397"/>
<path d="M585 290 C584.7 296.7 584.3 302.6 584 310 C583.6 319.4 583.2 330.9 583 342 C582.8 354.1 583.6 371.4 583 380 C582.7 384.4 582.5 387 581.6 390 C580.8 392.6 579.2 394.7 578 397"/>
<path d="M543 255 L548 251.6 L553 254 L552.4 258 L547 261 L543 259 L543 255"/>
<path d="M524 267 C524.4 265.7 525.6 264.1 527 264 C530.2 263.8 538.5 275.4 543 277 C545.6 277.9 547.4 276.7 550 277 C553.5 277.4 560.1 277.9 562 280 C563.4 281.5 564 284.9 563 286 C561.5 287.6 553.7 285.1 550 285 C547.3 284.9 545.7 285.8 543 285 C538.2 283.5 527.5 276.9 525 273 C523.7 271 523.5 268.6 524 267Z"/>
<path d="M545 291 L545 331 L551.6 334 L551.6 293.6 L545 291 L551 288.4 L558 291 L558 330 L551.6 334"/>
<path d="M551.6 293.6 L558 291"/>
<path d="M526 326 C526.6 324.8 528.3 323.8 530 324 C533.7 324.5 541.7 336.4 546 338 C548.3 338.9 549.5 337.9 552 338 C556.1 338.1 565.7 337 568 339 C569.3 340.1 569.4 342.6 569 344 C568.6 345.2 567.6 346.4 566 347 C563 348.1 554.7 346.1 551 346 C548.9 345.9 548.1 346.7 546 346 C541.5 344.5 529.6 336.2 527 332 C525.7 329.9 525.3 327.3 526 326Z"/>
<path d="M583 381 C582.9 381.6 582.9 382.2 582.7 382.8 C582.6 383.4 582.3 383.9 581.9 384.5 C581.6 385.1 581.1 385.6 580.7 386.2 C580.1 386.7 579.5 387.2 578.9 387.7 C578.2 388.2 577.4 388.7 576.6 389.1 C575.8 389.6 574.9 390 574 390.4 C573.1 390.8 572.1 391.1 571.1 391.4 C570 391.8 568.9 392 567.8 392.3 C566.7 392.5 565.5 392.7 564.3 392.9 C563.1 393.1 561.9 393.2 560.7 393.3 C559.5 393.4 558.2 393.4 557 393.4 C555.8 393.4 554.5 393.4 553.3 393.3 C552.1 393.2 550.9 393.1 549.7 392.9 C548.5 392.7 547.3 392.5 546.2 392.3 C545.1 392 544 391.8 542.9 391.4 C541.9 391.1 540.9 390.8 540 390.4 C539.1 390 538.2 389.6 537.4 389.1 C536.6 388.7 535.8 388.2 535.1 387.7 C534.5 387.2 533.9 386.7 533.3 386.2 C532.9 385.6 532.4 385.1 532.1 384.5 C531.7 383.9 531.4 383.4 531.3 382.8 C531.1 382.2 531.1 381.6 531 381"/>
<path d="M582.3 387 C582.1 387.6 582 388.2 581.7 388.7 C581.5 389.3 581.1 389.8 580.7 390.3 C580.2 390.9 579.7 391.4 579.2 391.9 C578.6 392.4 577.9 392.8 577.2 393.3 C576.4 393.7 575.6 394.2 574.8 394.6 C573.9 395 573 395.3 572.1 395.7 C571.1 396 570.1 396.3 569.1 396.6 C568 396.8 566.9 397.1 565.8 397.3 C564.7 397.5 563.5 397.6 562.3 397.7 C561.2 397.9 560 397.9 558.8 398 C557.6 398 556.4 398 555.2 398 C554 397.9 552.8 397.9 551.7 397.7 C550.5 397.6 549.3 397.5 548.2 397.3 C547.1 397.1 546 396.8 544.9 396.6 C543.9 396.3 542.9 396 541.9 395.7 C541 395.3 540.1 395 539.2 394.6 C538.4 394.2 537.6 393.7 536.8 393.3 C536.1 392.8 535.4 392.4 534.8 391.9 C534.3 391.4 533.8 390.9 533.3 390.3 C532.9 389.8 532.5 389.3 532.3 388.7 C532 388.2 531.9 387.6 531.7 387"/>
<path d="M580.2 393.9 C579.9 394.4 579.8 395 579.5 395.5 C579.2 396 578.8 396.5 578.3 396.9 C577.9 397.4 577.3 397.9 576.8 398.3 C576.2 398.8 575.5 399.2 574.8 399.6 C574.1 400 573.3 400.4 572.5 400.7 C571.6 401.1 570.8 401.4 569.9 401.6 C568.9 401.9 568 402.2 567 402.4 C566 402.6 564.9 402.8 563.9 403 C562.8 403.1 561.8 403.2 560.7 403.3 C559.6 403.4 558.5 403.4 557.4 403.4 C556.3 403.4 555.2 403.4 554.1 403.3 C553 403.2 552 403.1 550.9 403 C549.9 402.8 548.8 402.6 547.8 402.4 C546.8 402.2 545.9 401.9 544.9 401.6 C544 401.4 543.2 401.1 542.3 400.7 C541.5 400.4 540.7 400 540 399.6 C539.3 399.2 538.6 398.8 538 398.3 C537.5 397.9 536.9 397.4 536.5 396.9 C536 396.5 535.6 396 535.3 395.5 C535 395 534.9 394.4 534.6 393.9"/>
<path d="M538 400 L539 415.6"/>
<path d="M576 399 L575 415.6"/>
<path d="M575.7 401.5 C575.5 401.8 575.3 402.2 575.1 402.6 C574.8 403 574.4 403.3 574.1 403.7 C573.7 404 573.2 404.4 572.8 404.7 C572.2 405 571.7 405.3 571.1 405.6 C570.5 405.9 569.9 406.2 569.2 406.4 C568.5 406.7 567.8 406.9 567.1 407.1 C566.3 407.3 565.5 407.5 564.7 407.7 C563.9 407.8 563.1 408 562.2 408.1 C561.4 408.2 560.5 408.3 559.6 408.3 C558.8 408.4 557.9 408.4 557 408.4 C556.1 408.4 555.2 408.4 554.4 408.3 C553.5 408.3 552.6 408.2 551.8 408.1 C550.9 408 550.1 407.8 549.3 407.7 C548.5 407.5 547.7 407.3 546.9 407.1 C546.2 406.9 545.5 406.7 544.8 406.4 C544.1 406.2 543.5 405.9 542.9 405.6 C542.3 405.3 541.8 405 541.2 404.7 C540.8 404.4 540.3 404 539.9 403.7 C539.6 403.3 539.2 403 538.9 402.6 C538.7 402.2 538.5 401.8 538.3 401.5"/>
<path d="M575 415.6 C574.9 416 574.9 416.4 574.8 416.7 C574.7 417.1 574.5 417.5 574.3 417.9 C574 418.2 573.7 418.6 573.4 418.9 C573 419.3 572.6 419.6 572.1 419.9 C571.7 420.3 571.1 420.6 570.6 420.8 C570 421.1 569.4 421.4 568.8 421.6 C568.1 421.9 567.4 422.1 566.7 422.3 C566 422.5 565.2 422.7 564.5 422.9 C563.7 423 562.9 423.2 562.1 423.3 C561.2 423.4 560.4 423.5 559.6 423.5 C558.7 423.6 557.9 423.6 557 423.6 C556.1 423.6 555.3 423.6 554.4 423.5 C553.6 423.5 552.8 423.4 551.9 423.3 C551.1 423.2 550.3 423 549.5 422.9 C548.8 422.7 548 422.5 547.3 422.3 C546.6 422.1 545.9 421.9 545.2 421.6 C544.6 421.4 544 421.1 543.4 420.8 C542.9 420.6 542.3 420.3 541.9 419.9 C541.4 419.6 541 419.3 540.6 418.9 C540.3 418.6 540 418.2 539.7 417.9 C539.5 417.5 539.3 417.1 539.2 416.7 C539.1 416.4 539.1 416 539 415.6"/>
<path d="M543 393.6 C544.3 393.2 545.9 392.1 547 392.4 C548.2 392.8 550.3 395.1 550 396 C549.7 396.9 546.7 397.1 545 397.6"/>
<path d="M124 403 C123.5 401.8 122.5 400.5 122.6 399.4 C122.7 398.2 123.8 396.7 125 396 C126.4 395.1 129.2 395.4 131 395 C132.5 394.7 133.3 395 135 394 C140.2 390.8 156.8 370.4 161 364 C162.7 361.4 162.5 359.3 164 358 C165.3 356.8 167.2 356.3 169 356 C170.9 355.6 173.2 356.4 175 356 C176.5 355.6 177.3 355.2 179 354 C183.3 351 192.8 340.7 199 335 C204.3 330.2 211 325.2 214 322 C215.5 320.4 215.6 318.8 217 318 C218.5 317.1 221.1 317 223 317 C224.7 317 226.2 318.1 228 318 C230.1 317.9 232 317 235 316 C240.9 314 252.2 309.1 260.8 305.6" stroke-width="1.1" stroke="#484848"/>
<path d="M250 308.6 C256.7 306.7 263.4 305 270 303 C276.7 301 284.5 298.4 290 296.6 C293.9 295.4 296.8 294 300 293.4 C302.8 292.9 305.4 292.6 308 293 C310.7 293.4 313 294.8 316 296 C320 297.6 325 299.7 330 302 C336.1 304.8 343.8 308.4 350 312 C355.8 315.4 361.1 319.3 366 323 C370.4 326.3 375.2 330.1 378 333 C379.8 334.8 381.7 336.2 382 338 C382.3 339.8 381.2 341.6 380 344 C378.1 348 373.6 354 370 359 C366.3 364.3 361.8 370.1 358 375 C354.7 379.2 349.9 383.3 348.4 386.6 C347.5 388.6 348.8 390.5 347.6 392 C345.8 394.3 340.4 395 336 397 C330.2 399.7 323.1 403.6 316 407 C307.9 410.9 296.5 415.4 290 419 C285.8 421.3 283.5 424 280 425.4 C276.8 426.7 273.1 426.7 270 427.4 C267.2 428 264.9 428.4 262 429.4 C258.4 430.6 254 432.9 250 434.6" stroke-width="1.1" stroke="#484848"/>
<path d="M124 403 C149.7 417.5 192.7 438.9 201 446.6 C203 448.5 202.6 449.9 204 451 C205.7 452.3 208.8 453.4 211 453.4 C213.1 453.4 215.5 452.8 217 451.4 C218.7 449.8 217.9 445.9 220 444 C222.9 441.3 229.4 441.2 235 439 C242.5 436.1 252.2 431.3 260.8 427.4" stroke-width="1.1" stroke="#484848"/>
<path d="M138.6 404 C138.4 402.7 137.9 401.5 138 400 C138.2 398.2 138.6 396.5 140 394 C143.4 388.1 157.5 372.2 163 368 C165.4 366.1 166.8 365.5 169 365 C171.4 364.4 173.9 365 177 365 C181.2 365 188.6 365.6 192 365 C193.8 364.7 195.2 364.4 196 363.4 C196.9 362.4 197.5 360.2 197 359 C196.4 357.6 194.1 356.5 192 356 C189.1 355.3 184.7 356.3 181 356.4" stroke-width="1.1" stroke="#484848"/>
<path d="M181 356.4 C187.7 350.6 195 344.4 201 339 C206.1 334.4 212.2 328.4 215 326 C216.1 325 216.6 324.7 217.4 324" stroke-width="1.1" stroke="#484848"/>
<path d="M230 323 C231.7 321.7 233.1 320.2 235 319 C237.3 317.6 239.8 316.6 243 315.4 C247.7 313.7 254.9 312.2 260.8 310.6" stroke-width="1.1" stroke="#484848"/>
<path d="M138.6 404 C144.1 407.7 151.7 413.4 155 415 C156.3 415.7 156.9 416.2 158 416 C159.5 415.7 160.7 413.3 163 412 C167 409.7 175.4 407.1 181 405 C185.9 403.2 190.9 401 195 400 C198 399.3 200.6 398.6 203 399 C205.2 399.4 207.9 400.5 209 402 C210 403.3 210.4 405.1 210 407 C209.4 410.1 205.9 415 203 418 C200.2 420.9 195.9 423 193 425 C190.8 426.5 188.1 427.3 187 429 C186.1 430.4 185.4 432.7 186 434 C186.7 435.5 189.8 435.7 192 437 C194.7 438.6 198.3 441.9 201 443 C202.8 443.8 204.3 443.7 206 444" stroke-width="1.1" stroke="#484848"/>
<path d="M215 445 C216.7 443.3 217.7 441.5 220 440 C223.5 437.7 229.3 436.3 235 434 C242.5 430.9 252.2 426.7 260.8 423" stroke-width="1.1" stroke="#484848"/>
<path d="M179 364 L192 364" stroke-width="2"/>
<ellipse cx="130" cy="400" rx="5" ry="2.8" stroke-width="1.1" stroke="#484848"/>
<ellipse cx="170" cy="360.6" rx="5" ry="2.6" stroke-width="1.1" stroke="#484848"/>
<ellipse cx="222" cy="321.4" rx="5" ry="3" stroke-width="1.1" stroke="#484848"/>
<ellipse cx="210" cy="448" rx="5" ry="2.8" stroke-width="1.1" stroke="#484848"/>
<ellipse cx="195" cy="360.6" rx="1.8" ry="1.8" stroke-width="1.1" stroke="#484848"/>
<ellipse cx="177" cy="420" rx="8.4" ry="5.4" transform="rotate(-15 177 420)" stroke-width="1.1" stroke="#484848"/>
<path d="M184 410 C184.5 407.4 197.8 403.3 201 404 C202.6 404.4 204 405.7 204 407 C204.1 409.3 197.4 415.9 195 417 C193.9 417.5 193.1 417.4 192 417 C189.8 416.2 183.6 412 184 410Z" stroke-width="1.1" stroke="#484848"/>
<path d="M250 315 C256.7 312.9 263.7 310.6 270 308.6 C275.6 306.8 281 304.5 286 303.4 C290.2 302.5 293.6 302 298 302 C303.4 302 310.1 302.8 316 304 C322.1 305.2 329 307.3 334 309.4 C337.9 311.1 340.7 313.1 344 315" stroke-width="1.1" stroke="#484848"/>
<path d="M368 339 C366 343.7 364.6 348.2 362 353 C358.9 358.8 354 365.7 350 371 C346.6 375.5 343.8 380.8 340 383 C337 384.8 333.3 384.3 330 385" stroke-width="1.1" stroke="#484848"/>
<ellipse cx="306" cy="297.4" rx="5.6" ry="3.2" stroke-width="1.1" stroke="#484848"/>
<ellipse cx="373.6" cy="338.6" rx="5" ry="3.4" stroke-width="1.1" stroke="#484848"/>
<ellipse cx="334.4" cy="390.4" rx="5" ry="3.4" stroke-width="1.1" stroke="#484848"/>
<ellipse cx="273.6" cy="422.6" rx="5.4" ry="3" stroke-width="1.1" stroke="#484848"/>
<ellipse cx="357" cy="329" rx="11.4" ry="7.6" transform="rotate(-12 357 329)" stroke-width="1.1" stroke="#484848"/>
<ellipse cx="287" cy="306" rx="2.6" ry="1.8" stroke-width="1.1" stroke="#484848"/>
<ellipse cx="295.6" cy="307.4" rx="2.6" ry="1.8" stroke-width="1.1" stroke="#484848"/>
<ellipse cx="305" cy="308" rx="2.6" ry="1.8" stroke-width="1.1" stroke="#484848"/>
<ellipse cx="315" cy="308" rx="2.6" ry="1.8" stroke-width="1.1" stroke="#484848"/>
<ellipse cx="297" cy="314" rx="2.6" ry="1.8" stroke-width="1.1" stroke="#484848"/>
<ellipse cx="307" cy="314.6" rx="2.6" ry="1.8" stroke-width="1.1" stroke="#484848"/>
<ellipse cx="270" cy="314.6" rx="2.6" ry="1.8" stroke-width="1.1" stroke="#484848"/>
<ellipse cx="265" cy="317" rx="2.6" ry="1.8" stroke-width="1.1" stroke="#484848"/>
<ellipse cx="274" cy="318.6" rx="2.6" ry="1.8" stroke-width="1.1" stroke="#484848"/>
<ellipse cx="282" cy="321.6" rx="2.6" ry="1.8" stroke-width="1.1" stroke="#484848"/>
<ellipse cx="268" cy="323" rx="2.6" ry="1.8" stroke-width="1.1" stroke="#484848"/>
<ellipse cx="276" cy="325" rx="2.6" ry="1.8" stroke-width="1.1" stroke="#484848"/>
<ellipse cx="340" cy="334" rx="2.6" ry="1.8" stroke-width="1.1" stroke="#484848"/>
<ellipse cx="341" cy="341.4" rx="2.6" ry="1.8" stroke-width="1.1" stroke="#484848"/>
<ellipse cx="349" cy="342" rx="2.6" ry="1.8" stroke-width="1.1" stroke="#484848"/>
<ellipse cx="350" cy="346" rx="2.6" ry="1.8" stroke-width="1.1" stroke="#484848"/>
<ellipse cx="358" cy="348" rx="2.6" ry="1.8" stroke-width="1.1" stroke="#484848"/>
<ellipse cx="361" cy="352" rx="2.6" ry="1.8" stroke-width="1.1" stroke="#484848"/>
<ellipse cx="352" cy="358" rx="2.6" ry="1.8" stroke-width="1.1" stroke="#484848"/>
<ellipse cx="343" cy="362.6" rx="2.6" ry="1.8" stroke-width="1.1" stroke="#484848"/>
<ellipse cx="351" cy="364" rx="2.6" ry="1.8" stroke-width="1.1" stroke="#484848"/>
<ellipse cx="334" cy="368" rx="2.6" ry="1.8" stroke-width="1.1" stroke="#484848"/>
<ellipse cx="342" cy="368.6" rx="2.6" ry="1.8" stroke-width="1.1" stroke="#484848"/>
<ellipse cx="334" cy="374" rx="2.6" ry="1.8" stroke-width="1.1" stroke="#484848"/>
<path d="M253 349 C253.8 346.6 256 343.9 258 342 C260 340.1 262.8 338.1 265 337.4 C266.7 336.9 268.7 336.7 270 337.4 C271.4 338.1 271.3 341.2 273 342 C275.3 343.1 280.8 340.3 284 341 C286.7 341.6 289.4 343.2 291 345 C292.5 346.6 293.7 348.9 293.6 351 C293.5 353.3 291.8 356.2 290 358 C288 359.9 284.8 361 282 362 C279.1 363 276.2 363.4 273 364 C269.5 364.7 264.8 366.7 262 366 C259.9 365.5 258.4 363.7 257 362 C255.4 360.1 253.6 357.3 253 355 C252.5 353 252.4 351 253 349Z" stroke-width="1.1" stroke="#484848"/>
<ellipse cx="265" cy="353" rx="5" ry="3" stroke-width="1.1" stroke="#484848"/>
<ellipse cx="267.6" cy="340.6" rx="2.2" ry="1.8" stroke-width="1.1" stroke="#484848"/>
<ellipse cx="261" cy="363.4" rx="2.2" ry="1.8" stroke-width="1.1" stroke="#484848"/>
<path d="M275 343 C275.7 342.6 279.3 345.2 280 347 C280.8 349 280.2 352.8 279 355 C277.8 357.1 273.7 360.4 273 360 C272.5 359.7 273.6 356.7 274 355 C274.4 353.1 275.4 351 275.6 349 C275.8 347 274.3 343.4 275 343Z" stroke-width="1.1" stroke="#484848"/>
<path d="M290 359.4 L329 380.6" stroke-width="1.1" stroke="#484848"/>
<path d="M288 363.4 C290 364.6 292.8 365.3 294 367 C295.1 368.6 293.9 371.7 295 373 C296 374.3 298 374.4 300 375 C302.7 375.8 307.1 375.6 310 377 C312.7 378.3 314.2 381.4 317 383 C320.1 384.8 324.3 385.7 328 387" stroke-width="1.1" stroke="#484848"/>
<path d="M267 373 C268 370.6 276.3 367.3 280 367 C282.6 366.8 285.7 367.7 287 369 C287.9 370 288.5 371.7 288 373 C287.3 375 282.6 377.9 280 379 C278 379.9 275.9 380.2 274 380 C272.2 379.8 270.2 379.2 269 378 C267.8 376.8 266.4 374.5 267 373Z" stroke-width="1.1" stroke="#484848"/>
<path d="M255 383 C255.3 381.5 259.5 379.2 262 379 C264.5 378.8 267.5 381.8 270 382 C272.1 382.2 273.7 381.7 276 381 C279.4 380 284.1 376.4 288 376 C291.4 375.7 294.4 376.8 298 378 C302.8 379.7 311.8 383.3 314 386 C315.1 387.3 315.6 388.5 315 390 C313.5 393.6 297.8 401.1 293 403 C290.8 403.8 290.3 404.4 288 404 C282.1 403.1 262.7 391.1 258 387 C256.2 385.4 254.7 384.2 255 383Z" stroke-width="1.1" stroke="#484848"/>
<path d="M256 403 C257 401.3 261.6 398.2 264 398 C265.8 397.8 266.8 399.1 269 400 C273.2 401.8 282.8 407.5 287 408 C289.1 408.2 289.7 407.8 292 407 C297.6 405 314.4 392.8 320 392 C322.3 391.7 324.1 392.1 325 393 C325.8 393.8 326.4 395.5 325.6 397 C323.2 401.7 298.4 413.4 290 416 C285.8 417.3 283.7 417.6 280 417 C274.8 416.2 266.4 411.1 262 409 C259.4 407.8 256.8 407.3 256 406 C255.5 405.1 255.5 404 256 403Z" stroke-width="1.1" stroke="#484848"/>
<path d="M246.1 316.6 C260.8 326.6 276 336.8 290.4 346.7 C304.2 356.1 317.4 365.2 330.9 374.4" stroke-width="1.1" stroke="#484848"/>
<path d="M241.4 322.8 C255.8 332.3 270.4 341.7 284.6 351.3 C298.7 360.8 312.4 370.3 326.3 379.8" stroke-width="1.1" stroke="#484848"/>
<path d="M249.2 380.6 C248.8 387.3 246.6 394.8 248 400.7 C249.2 405.8 251.8 411 255.7 414.1 C259.9 417.6 267.3 418 273.1 419.9" stroke-width="1.1" stroke="#484848"/>
<path d="M253 382.1 C252.8 387.8 251 394.4 252.2 399.1 C253.3 403.1 255.3 406.5 258.4 409.1 C262.1 412.2 268.7 413.2 273.8 415.3" stroke-width="1.1" stroke="#484848"/>
<path d="M230.7 325.9 L241.4 322.8" stroke-width="1.1" stroke="#484848"/>
<ellipse cx="178" cy="296" rx="13" ry="7.6"/>
<ellipse cx="178" cy="296" rx="9" ry="5"/>
<ellipse cx="178" cy="296.6" rx="5.6" ry="2.8"/>
<path d="M165 296.2 L165 301.8"/>
<path d="M191 296.2 L191 301.8"/>
<path d="M191 301.8 C191 302.2 191 302.5 190.9 302.9 C190.8 303.2 190.6 303.6 190.5 303.9 C190.3 304.3 190.1 304.6 189.8 305 C189.6 305.3 189.3 305.6 188.9 305.9 C188.6 306.2 188.2 306.5 187.8 306.8 C187.4 307.1 187 307.3 186.5 307.5 C186 307.8 185.5 308 185 308.2 C184.5 308.4 184 308.6 183.4 308.7 C182.8 308.9 182.3 309 181.7 309.1 C181.1 309.2 180.5 309.3 179.9 309.3 C179.2 309.4 178.6 309.4 178 309.4 C177.4 309.4 176.8 309.4 176.1 309.3 C175.5 309.3 174.9 309.2 174.3 309.1 C173.7 309 173.2 308.9 172.6 308.7 C172 308.6 171.5 308.4 171 308.2 C170.5 308 170 307.8 169.5 307.5 C169 307.3 168.6 307.1 168.2 306.8 C167.8 306.5 167.4 306.2 167.1 305.9 C166.7 305.6 166.4 305.3 166.2 305 C165.9 304.6 165.7 304.3 165.5 303.9 C165.4 303.6 165.2 303.2 165.1 302.9 C165 302.5 165 302.2 165 301.8"/>
<path d="M177 274 L177 293.4" stroke-width="1.1" stroke="#444"/>
<path d="M172 308.6 L152 331"/>
<path d="M157 288.6 L151 288.6 L151 304 L157 304"/>
<path d="M148 296.6 L151 296.6"/>
<path d="M129.4 292.2 L148.6 296.6 L129.4 300.2 Z" fill="#111" stroke="none"/>
<path d="M122.4 560 L122.2 558 Q122 556 123.4 554.6 L124.6 553.4 Q126 552 127.6 550.8 L128.4 550.2 Q130 549 131.2 547.4 L133.8 544 Q135 542.4 136.9 541.9 L138.1 541.5 Q140 541 141.3 539.5 L158.7 520.5 Q160 519 160.5 517.1 L160.5 516.9 Q161 515 162.7 513.9 L164.3 512.7 Q166 511.6 168 511.5 L172 511.1 Q174 511 175.8 510.1 L178.2 508.9 Q180 508 181.5 506.7 L209.5 481.3 Q211 480 212 478.3 L213 476.7 Q214 475 215.8 474.2 L218.2 473.2 Q220 472.4 222 472.7 L226 473.3 Q228 473.6 230 473.9 L232 474.1 Q234 474.4 235.8 473.4 L255.8 462.4" stroke-width="1.2" stroke="#3c3c3c"/>
<path d="M139 562 L138.3 558 Q138 556 138.8 554.2 L140.2 550.8 Q141 549 142.4 547.5 L161.6 526.5 Q163 525 164.9 524.3 L168.1 523.1 Q170 522.4 171.9 521.9 L174.1 521.5 Q176 521 177.2 519.4 L178.8 517.6 Q180 516 181.5 514.7 L213 486.4" stroke-width="1.2" stroke="#3c3c3c"/>
<path d="M122.4 560 L204 609.4" stroke-width="1.2" stroke="#3c3c3c"/>
<path d="M204 609.4 C206 610.3 208 611.8 210 612 C212 612.1 214.3 611.2 216 610.4 C217.5 609.7 217.9 608.8 220 607.6 C225.9 604.3 243.9 596.9 255.8 591.6" stroke-width="1.2" stroke="#3c3c3c"/>
<path d="M122 557 L123.2 570.4 L206 621.6" stroke-width="1.2" stroke="#3c3c3c"/>
<path d="M206 621.6 C208.7 622.1 211.5 623.8 214 623.2 C216.8 622.5 218.2 619.2 222 617 C229.2 612.8 244.5 607.7 255.8 603" stroke-width="1.2" stroke="#3c3c3c"/>
<path d="M139 562 C145 565.9 153 574.1 157 573.6 C159.4 573.3 159.3 569.8 162 568 C167.3 564.4 182.9 559.6 190 558 C194.1 557.1 196.9 556.6 200 557 C202.9 557.4 206.3 558.1 208 560 C209.6 561.8 210.8 565.3 210 568 C208.9 571.9 202.1 576.5 198 580 C194.4 583.1 189.1 585.6 187 588 C185.8 589.4 184.7 590.8 185 592 C185.3 593.5 187.8 594.7 190 596 C193.4 598 199.3 600 204 602" stroke-width="1.2" stroke="#3c3c3c"/>
<ellipse cx="130" cy="557" rx="4.8" ry="2.8" stroke-width="1.2" stroke="#3c3c3c"/>
<ellipse cx="169.6" cy="517" rx="4.8" ry="2.8" stroke-width="1.2" stroke="#3c3c3c"/>
<ellipse cx="221" cy="478" rx="4.8" ry="2.8" stroke-width="1.2" stroke="#3c3c3c"/>
<ellipse cx="209.4" cy="605" rx="4.8" ry="2.8" stroke-width="1.2" stroke="#3c3c3c"/>
<ellipse cx="176" cy="577.6" rx="5" ry="6" stroke-width="1.2" stroke="#3c3c3c"/>
<path d="M167 577.6 L176 571 L187 578 L177 584 L167 577.6" stroke-width="1.2" stroke="#3c3c3c"/>
<path d="M185 567 C185.7 564.7 194.5 562.1 198 562 C200.4 561.9 203.7 562.7 204 564 C204.5 565.9 196.8 573 194 574 C192.5 574.5 191.3 574.3 190 573.6 C188.2 572.6 184.5 568.8 185 567Z" stroke-width="1.2" stroke="#3c3c3c"/>
<path d="M164 526 L164 568" stroke-width="1.2" stroke="#3c3c3c"/>
<path d="M179 518.4 L185 528 L185 560" stroke-width="1.2" stroke="#3c3c3c"/>
<path d="M160 539 C164.7 539 169.7 540.1 174 539 C178 538 181.3 535 185 533" stroke-width="1.2" stroke="#3c3c3c"/>
<path d="M213 488 L214 544" stroke-width="1.2" stroke="#3c3c3c"/>
<path d="M236 488 L236 560" stroke-width="1.2" stroke="#3c3c3c"/>
<path d="M210 500 C214.7 500 219.8 501.2 224 500 C228.1 498.8 231.3 495.3 235 493" stroke-width="1.2" stroke="#3c3c3c"/>
<path d="M232 477 C233.3 480.7 233.7 486.6 236 488 C237.8 489.1 240.7 487.3 243 487" stroke-width="1.2" stroke="#3c3c3c"/>
<path d="M214 544 C216 548 217.2 553 220 556 C222.6 558.8 226.8 561.5 230 562 C232.7 562.4 235.3 560.7 238 560 C240.7 559.3 243.2 558.1 246 558 C249.1 557.9 252.5 559.3 255.8 560" stroke-width="1.2" stroke="#3c3c3c"/>
<path d="M214 544 C211.3 548 206.6 551.9 206 556 C205.5 559.9 208.9 563 210 568 C211.8 576 212.7 589.3 214 600" stroke-width="1.2" stroke="#3c3c3c"/>
<path d="M255.8 536 L248 540 L248 588" stroke-width="1.2" stroke="#3c3c3c"/>
<path d="M248 560 L255.8 557" stroke-width="1.2" stroke="#3c3c3c"/>
<path d="M134 580 L136 651.8" stroke-width="1.2" stroke="#3c3c3c"/>
<path d="M143 581 L144 651.8" stroke-width="1.2" stroke="#3c3c3c"/>
<path d="M150 590 L150 618 L159 618 L159 630 L176 623" stroke-width="1.2" stroke="#3c3c3c"/>
<path d="M175 606 L175 640 L186 646 L178 651.8" stroke-width="1.2" stroke="#3c3c3c"/>
<path d="M185 612 L185 640" stroke-width="1.2" stroke="#3c3c3c"/>
<path d="M156 632 L162 640 L153 648" stroke-width="1.2" stroke="#3c3c3c"/>
<path d="M201 624 L201 651.8" stroke-width="1.2" stroke="#3c3c3c"/>
<path d="M218 624 L218 651.8" stroke-width="1.2" stroke="#3c3c3c"/>
<path d="M235 618 L235 651.8" stroke-width="1.2" stroke="#3c3c3c"/>
<path d="M221 612 L234 603 L237 604 L235 610 L223 616 L221 612" stroke-width="1.2" stroke="#3c3c3c"/>
<path d="M250 462 L290.1 448.9 Q293 448 296 447.5 L297 447.3 Q300 446.8 303 447.2 L307 447.8 Q310 448.2 312.8 449.1 L316.2 450.3 Q319 451.2 321.6 452.7 L369.8 481.5 Q372.4 483 374.5 485.1 L379.5 490.3 Q381.6 492.4 382.6 495.2 L382.6 495.2 Q383.6 498 381.8 500.4 L381.8 500.6 Q380 503 378 505.3 L370 514.7 Q368 517 366.1 519.3 L347.9 540.7 Q346 543 343.7 545 L340.3 548 Q338 550 335.4 551.5 L278.6 582.9 Q276 584.4 273.2 585.4 L250 593.6" stroke-width="1.2" stroke="#3c3c3c"/>
<path d="M383.6 498 L384.2 505 Q384.4 508 382.7 510.4 L379.7 514.6 Q378 517 376.1 519.3 L371.9 524.7 Q370 527 368 529.2 L360 537.8 Q358 540 355.9 542.2 L343.1 555.8 Q341 558 338.4 559.5 L280.6 592.9 Q278 594.4 275.2 595.5 L250 605.6" stroke-width="1.2" stroke="#3c3c3c"/>
<path d="M370 528 L370 549 L359 595.6 L334 614 L318 631 L316.4 651.8" stroke-width="1.2" stroke="#3c3c3c"/>
<path d="M329 570 C330.2 568.3 332.4 567.9 334 568 C335.4 568.1 337.1 568.5 338 570 C339.9 573.3 337.9 584.9 337 592 C336.2 598.9 335.4 607.5 333 612 C331.4 614.9 328.6 618.1 327 618 C325.8 617.9 324.4 615.9 324 614 C323.2 610.3 327.1 602.6 328 596 C329 588.2 326.4 573.7 329 570Z" stroke-width="1.2" stroke="#3c3c3c"/>
<path d="M259 604 L259 651.8" stroke-width="1.2" stroke="#3c3c3c"/>
<path d="M276 595 L276 640" stroke-width="1.2" stroke="#3c3c3c"/>
<path d="M272 644 L310 638 L310 651.8" stroke-width="1.2" stroke="#3c3c3c"/>
<path d="M390 651.8 L390 628 L395.8 625" stroke-width="1.2" stroke="#3c3c3c"/>
<path d="M250 467 C256.7 464.7 263.9 461.9 270 460 C275 458.5 279.5 456.3 284 456.4 C288.2 456.5 291.4 459.2 296 460 C301.8 461 310 460.2 316 461 C321.1 461.7 325.5 462.3 330 464 C334.8 465.8 340.7 469.2 344 472 C346.3 473.9 348.4 475.5 349 478 C349.7 481.2 347 486 346 490" stroke-width="1.2" stroke="#3c3c3c"/>
<path d="M250 473 L259.6 480.2 Q262 482 264.5 483.6 L283.5 495.4 Q286 497 287.8 499 L287.8 499 Q289.6 501 289.8 504 L289.8 505 Q290 508 288.5 510.5 L288.5 510.5 Q287 513 284.4 514.4 L274.6 519.6 Q272 521 269.3 522.3 L250 532" stroke-width="1.2" stroke="#3c3c3c"/>
<path d="M255.6 469.2 L290 491.6" stroke-width="1.2" stroke="#3c3c3c"/>
<path d="M269 462 L269 484" stroke-width="1.2" stroke="#3c3c3c"/>
<path d="M276 460 L276 488" stroke-width="1.2" stroke="#3c3c3c"/>
<path d="M282 460 L282 492.4" stroke-width="1.2" stroke="#3c3c3c"/>
<path d="M286 462 L287 494.4" stroke-width="1.2" stroke="#3c3c3c"/>
<path d="M293 510 C301.3 502.3 313 489.7 318 487 C319.7 486.1 320.2 485.9 322 486 C326.4 486.2 336.7 491.3 344 494" stroke-width="1.2" stroke="#3c3c3c"/>
<path d="M344 494 L343 538 L338 539 L293 515 L293 510" stroke-width="1.2" stroke="#3c3c3c"/>
<path d="M310 460 L310 494" stroke-width="1.2" stroke="#3c3c3c"/>
<path d="M321 462 L321 486" stroke-width="1.2" stroke="#3c3c3c"/>
<path d="M344 494 L346 490" stroke-width="1.2" stroke="#3c3c3c"/>
<ellipse cx="359" cy="487.4" rx="9.6" ry="7.6" transform="rotate(-15 359 487.4)" stroke-width="1.2" stroke="#3c3c3c"/>
<ellipse cx="359" cy="487.4" rx="7" ry="5.4" transform="rotate(-15 359 487.4)" stroke-width="1.2" stroke="#3c3c3c"/>
<ellipse cx="374.4" cy="495" rx="3.6" ry="2.4" stroke-width="1.2" stroke="#3c3c3c"/>
<ellipse cx="307" cy="454.4" rx="4.4" ry="2.8" stroke-width="1.2" stroke="#3c3c3c"/>
<ellipse cx="315" cy="455" rx="2" ry="1.6" stroke-width="1.2" stroke="#3c3c3c"/>
<ellipse cx="334.4" cy="548" rx="4.4" ry="3" stroke-width="1.2" stroke="#3c3c3c"/>
<ellipse cx="273.6" cy="580.6" rx="4.8" ry="2.8" stroke-width="1.2" stroke="#3c3c3c"/>
<path d="M370 498.4 C369.3 499.6 368.5 500.7 368 502 C367.5 503.3 367.8 504.3 367 506 C364.8 510.5 353.6 522.9 350 528 C348.1 530.6 347.3 532.2 346 534 C344.9 535.5 344 536.7 343 538" stroke-width="1.2" stroke="#3c3c3c"/>
<path d="M353 514.4 L360 509.4 L365 510.4 L359 517" stroke-width="1.2" stroke="#3c3c3c"/>
<path d="M378 506.4 L386 505.6 L380.4 516 L375 515" stroke-width="1.2" stroke="#3c3c3c"/>
<path d="M267 528 C268 525.7 276.3 523.2 280 523 C282.7 522.9 285.7 523.7 287 525 C287.9 526 288.5 527.8 288 529 C287.2 530.9 282.6 532.9 280 534 C277.9 534.9 275.9 535.8 274 535.6 C272.2 535.4 270.2 534.3 269 533 C267.9 531.7 266.4 529.4 267 528Z" stroke-width="1.2" stroke="#3c3c3c"/>
<path d="M255 538 C255.5 536.5 259.6 535.2 262 535 C264.5 534.8 267.5 536.9 270 537 C272.1 537.1 273.7 536.6 276 536 C279.3 535.2 284.2 532.2 288 532 C291.5 531.8 294.4 532.8 298 534 C302.8 535.7 311.8 539.3 314 542 C315.1 543.3 315.6 544.5 315 546 C313.5 549.6 297.8 557.1 293 559 C290.8 559.8 290.3 560.4 288 560 C282.1 559.1 262.6 547.5 258 543 C256.1 541.1 254.6 539.3 255 538Z" stroke-width="1.2" stroke="#3c3c3c"/>
<path d="M263 538.4 L263 547" stroke-width="1.2" stroke="#3c3c3c"/>
<path d="M273 540 L273 554" stroke-width="1.2" stroke="#3c3c3c"/>
<path d="M287 534 L287 559.6" stroke-width="1.2" stroke="#3c3c3c"/>
<path d="M293 536 L293 558.4" stroke-width="1.2" stroke="#3c3c3c"/>
<path d="M308 540 L308 550.4" stroke-width="1.2" stroke="#3c3c3c"/>
<path d="M256 558 C257 556.3 261.6 553.7 264 553.6 C265.8 553.5 266.8 555 269 556 C273.1 557.9 282.8 563.5 287 564 C289.1 564.2 289.7 563.8 292 563 C297.6 561 314.4 548.8 320 548 C322.3 547.7 324.1 548.1 325 549 C325.8 549.8 326.4 551.5 325.6 553 C323.2 557.7 298.4 569.4 290 572 C285.8 573.3 283.7 573.6 280 573 C274.8 572.2 266.4 567.2 262 565 C259.4 563.7 256.8 563 256 561.6 C255.4 560.6 255.4 559.1 256 558Z" stroke-width="1.2" stroke="#3c3c3c"/>
<path d="M289 518 C291.3 518.7 292.9 518.7 296 520 C303.2 523.1 318.7 533.3 330 540" stroke-width="1.2" stroke="#3c3c3c"/>
<path d="M287 521 C289 522 291.7 522.5 293 524 C294.2 525.3 293.8 527.8 295 529 C296.2 530.2 298 530.4 300 531 C302.7 531.8 307.1 531.6 310 533 C312.7 534.3 314.2 537.4 317 539 C320.1 540.8 324.3 541.7 328 543" stroke-width="1.2" stroke="#3c3c3c"/>
<path d="M136 640 C137.3 646.7 138.7 653.5 140 660 C141.2 666.2 142.3 672.6 143.6 678 C144.7 682.4 145.6 685.7 147 690 C148.6 695 151 700.7 153 706" stroke-width="1.2" stroke="#3c3c3c"/>
<path d="M152 647 L168 640 L179 641 L187 648 L185 651 L176 646 L176 655 L162 660 L153 655 L152 647" stroke-width="1.2" stroke="#3c3c3c"/>
<path d="M144 677 C144.6 674.5 150.2 671.8 153 670 C155.1 668.7 156.7 667 159 667 C162.1 667.1 166.7 671.4 170 673 C172.6 674.2 175.2 674.5 177 676 C178.8 677.5 180.7 679.8 181 682 C181.3 684.4 179.8 688 178 690 C176.2 692 172.7 693.9 170 694 C167.4 694.1 165 692.4 162 691 C157.7 689.1 149.9 686 147 683 C145.2 681.1 143.6 678.9 144 677Z" stroke-width="1.2" stroke="#3c3c3c"/>
<ellipse cx="149" cy="680" rx="2" ry="2.4" stroke-width="1.2" stroke="#3c3c3c"/>
<ellipse cx="163" cy="688" rx="2" ry="2.4" stroke-width="1.2" stroke="#3c3c3c"/>
<ellipse cx="167.4" cy="711" rx="2.2" ry="2.6" stroke-width="1.2" stroke="#3c3c3c"/>
<path d="M153 702 L161 697 L174 700 L176 708 L165 719 L153 712 L153 702" stroke-width="1.2" stroke="#3c3c3c"/>
<path d="M164 659 L164 672" stroke-width="1.2" stroke="#3c3c3c"/>
<path d="M170 658 L170 673" stroke-width="1.2" stroke="#3c3c3c"/>
<path d="M157 660 L157 668" stroke-width="1.2" stroke="#3c3c3c"/>
<path d="M158 691 L158 698" stroke-width="1.2" stroke="#3c3c3c"/>
<path d="M166 694 L166 699" stroke-width="1.2" stroke="#3c3c3c"/>
<path d="M172 692 L172 700" stroke-width="1.2" stroke="#3c3c3c"/>
<path d="M176 715 C180.7 716.7 185.5 718.7 190 720 C194.1 721.1 197 721.9 202 722.4 C210.1 723.2 224.6 724.7 234 722.4 C242.2 720.4 248.5 714.8 255.8 711" stroke-width="1.2" stroke="#3c3c3c"/>
<path d="M176 709 C177 710.3 177.6 712.1 179 713 C180.7 714 183.2 713.8 186 714 C190.2 714.4 196.7 714.3 202 714.4" stroke-width="1.2" stroke="#3c3c3c"/>
<path d="M202 714.4 L236 714.4" stroke-width="1.8" stroke="#3c3c3c"/>
<path d="M236 714.4 L255.8 702" stroke-width="1.2" stroke="#3c3c3c"/>
<path d="M193 713 C193 708 191.7 701.7 193 698 C194 695.3 196.3 693.4 198 692 C199.3 691 200.8 689.6 202 690 C203.6 690.5 205.2 694.1 206 697 C207.1 701.1 206 707.7 206 713" stroke-width="1.2" stroke="#3c3c3c"/>
<path d="M222 713 C222.3 708 221.6 701.9 223 698 C224.1 695 226.2 692.2 228 691 C229.3 690.1 230.8 689.5 232 690 C233.9 690.8 236.1 694.8 237 698 C238.1 701.9 237 707.3 237 712" stroke-width="1.2" stroke="#3c3c3c"/>
<path d="M185 697 L192 698 L192 712 L185 712 L185 697" stroke-width="1.2" stroke="#3c3c3c"/>
<path d="M207 700 L221 700 L221 712 L207 712 L207 700" stroke-width="1.2" stroke="#3c3c3c"/>
<path d="M184 652 L184 698" stroke-width="1.2" stroke="#3c3c3c"/>
<path d="M201 640 L201 690" stroke-width="1.2" stroke="#3c3c3c"/>
<path d="M218 640 L218 684" stroke-width="1.2" stroke="#3c3c3c"/>
<path d="M235 640 L235 690" stroke-width="1.2" stroke="#3c3c3c"/>
<path d="M238 693 L255.8 665" stroke-width="1.2" stroke="#3c3c3c"/>
<path d="M238 697 L255.8 686" stroke-width="1.2" stroke="#3c3c3c"/>
<path d="M237 708 L255.8 696" stroke-width="1.2" stroke="#3c3c3c"/>
<path d="M228.4 730 L228.4 792 L390 691 L390 628 L396 625" stroke-width="1.2"/>
<path d="M259 620 L259 662 L264 670 L270 668" stroke-width="1.2" stroke="#3c3c3c"/>
<path d="M278 620 L278 640" stroke-width="1.2" stroke="#3c3c3c"/>
<path d="M272 644 L278 641 L316 620" stroke-width="1.2" stroke="#3c3c3c"/>
<path d="M272 644 L270 688" stroke-width="1.2" stroke="#3c3c3c"/>
<path d="M330 620 L318 632 L318 656 L302 672" stroke-width="1.2" stroke="#3c3c3c"/>
<path d="M280 666 L309 639 L310 652 L281 681 L280 666" stroke-width="1.2" stroke="#3c3c3c"/>
<path d="M295 675 L300 671 L304 673 L304 676 L299 680 L295 678 L295 675" stroke-width="1.2" stroke="#3c3c3c"/>
<path d="M250 714 L276 698 L286 688 L316 659" stroke-width="1.2" stroke="#3c3c3c"/>
<path d="M250 706 L270 694" stroke-width="1.2" stroke="#3c3c3c"/>
<path d="M250 700 L270 689" stroke-width="1.8" stroke="#3c3c3c"/>
<path d="M250 676 L259 663" stroke-width="1.2" stroke="#3c3c3c"/>
<path d="M250 686 L268 676" stroke-width="1.2" stroke="#3c3c3c"/>
<path d="M525.6 470.5 Q525.6 468.7 527.4 468.7 L529.8 468.7 Q531.6 468.7 531.6 470.5 L531.6 481.7 Q531.6 483.5 529.8 483.5 L527.4 483.5 Q525.6 483.5 525.6 481.7Z" stroke-width="1.5"/>
<path d="M503.2 463.3 L525 472.3" stroke-width="1.1"/>
<path d="M528.6 483.5 L528.6 584.5" stroke-width="1.4" stroke="#3a3a3a"/>
<path d="M396 625 L539.6 536 L539.6 587" stroke-width="1.15"/>
<path d="M545 491.2 C537.7 494.5 531.1 497.1 523.2 501.1 C513.3 506 500.4 513.1 490.3 518.9 C481.4 524 470.7 529.9 465.6 534 C462.9 536.1 461.7 537.1 460.1 539.5 C458 542.6 456.3 548.1 455.3 551.8 C454.5 554.8 453.8 558 453.9 560 C454 561.2 454.2 561.7 454.6 562.8 C455.4 564.8 456.8 568.4 458.7 571 C460.8 573.9 463.6 577 466.9 579.3 C470.7 581.7 475.6 583.2 480.7 584.7 C486.5 586.5 493.2 587.7 499.9 588.9 C506.9 590 515.5 591.1 521.8 591.6 C526.5 591.9 530 591.8 534.2 591.9"/>
<path d="M453.9 560.7 C454.1 563.7 453.9 567.1 454.6 569.7 C455.2 571.8 456 573.1 457.3 575.1 C459.2 578 462.2 581.9 465.6 584.7 C469.4 587.9 474.1 590.7 479.3 593 C485.3 595.6 492.9 597.3 499.9 599.1 C507 601 514.4 602.7 521.8 603.9 C529.4 605.2 537.3 605.8 545 606.7"/>
<path d="M463.9 577.2 L464.5 583.6"/>
<path d="M488.9 591.6 L488.9 598"/>
<path d="M508.1 595 L508.1 601.9"/>
<path d="M545 495.6 C538.6 498.5 530.8 502 525.9 504.5 C522.8 506.1 520.9 507.2 518.4 508.6"/>
<ellipse cx="511.5" cy="517.2" rx="5.5" ry="3.4"/>
<path d="M501.9 521 C502.6 522.8 502.6 525.1 504 526.4 C505.7 528.1 509.6 529.4 512.2 529.2 C514.6 529 517.8 527.5 519.1 525.8 C520.2 524.2 519.7 521.6 520 519.6"/>
<ellipse cx="469.7" cy="544.3" rx="4.8" ry="3"/>
<path d="M502.6 521.6 L484.8 531.9 L483.4 534.3 L486.2 536.3 L504 526.4"/>
<path d="M486.2 540.2 C486.6 544 486.5 549 487.5 551.8 C488.2 553.6 488.9 554.6 490.3 555.9 C492 557.7 495.3 559.1 497.8 560.7"/>
<path d="M491.6 540.8 C492.1 544.5 491.9 549.3 493 551.8 C493.7 553.4 494.7 554.2 495.8 555.2 C496.9 556.3 498.5 557.1 499.9 558"/>
<path d="M486.2 540.2 C487.1 539.7 488 538.7 488.9 538.8 C489.8 538.9 490.7 540.2 491.6 540.8"/>
<path d="M469 562.8 C469.5 561 469.4 558.8 470.4 557.3 C471.3 555.8 472.9 554.6 474.5 553.9 C476.2 553.1 478.9 554 480.7 553.2 C482.3 552.4 484 550.8 484.8 549.1 C485.6 547.3 485.2 545 485.5 542.9"/>
<path d="M472.4 560 C474.7 559.1 477.1 558.4 479.3 557.3 C481.6 556.1 483.9 554.6 486.2 553.2"/>
<path d="M467.6 565.5 L469 562.8"/>
<path d="M471.7 569.9 L499.9 553.9"/>
<path d="M494.4 545 L545 515.1"/>
<path d="M499.9 557.3 C500.1 554.6 499.5 551.2 500.6 549.1 C501.5 547.2 503.3 546 505.4 545 C508.1 543.5 513.3 541.9 516.3 542.2 C518.5 542.5 519.4 543.6 521.8 545 C526.9 547.9 537.3 555 545 560"/>
<path d="M505.4 549.1 C507.2 548.2 508.8 546.6 510.8 546.3 C513.3 546 515.7 546.4 519.1 547.7 C525.5 550.2 536.4 558.7 545 564.2"/>
<path d="M513.6 553.9 L545 573.8"/>
<ellipse cx="515" cy="547" rx="4.1" ry="2.2"/>
<path d="M477.9 576.5 C482 578.8 485.7 582 490.3 583.4 C495.2 584.9 501.4 585 506.7 584.7 C511.9 584.5 518.1 583.2 521.8 582 C524.2 581.2 525.5 580.2 527.3 579.3"/>
<ellipse cx="529" cy="585.4" rx="2.5" ry="1.4"/>
<ellipse cx="539" cy="588.2" rx="4.8" ry="2.7"/>
<ellipse cx="564.5" cy="489.2" rx="4.8" ry="3"/>
<path d="M535 495.4 C542.3 491.7 552 486.2 556.9 484.4 C559.3 483.5 560.5 483.1 562.4 483 C564.6 483 567.2 483.6 569.3 484.4 C571.3 485.2 573 486.5 574.8 487.8 C576.7 489.2 578.4 491 580.3 492.6"/>
<path d="M580.3 492.6 L622.8 518"/>
<path d="M622.8 518 C624.4 519.3 626.7 520.5 627.6 521.9 C628.2 522.8 628 523.9 628.3 524.9"/>
<path d="M628.3 524.9 L628.3 535.8 L618.7 546.1"/>
<path d="M628.3 524.2 C625.5 527.2 622.8 530 620 533.1 C617.3 536.2 614.9 539.6 611.8 542.7 C608.5 546 604.7 549 600.8 552.3 C596.6 555.9 591.5 559.9 587.1 563.3 C583.3 566.3 580.3 568.5 576.2 571.5 C571 575.3 563.8 580.4 558.3 583.9 C553.9 586.6 550.1 589.1 546 590.7 C542.3 592.2 538.7 592.5 535 593.5"/>
<path d="M618.7 546.1 C616.4 548.2 614.3 549.9 611.8 552.3 C608.6 555.4 604.6 559.8 600.8 563.3 C597.2 566.6 593.6 570.1 589.9 572.9 C586.3 575.5 583.1 577.2 578.9 579.7 C573.4 583 563.5 586.7 559.7 590.7 C557.2 593.3 557.5 596.6 555.6 598.9 C553.5 601.4 550.6 603.7 547.3 605.1 C543.8 606.6 539.1 606.5 535 607.2"/>
<path d="M535 502.2 C540.9 499.5 549.6 493.4 552.8 494 C554.3 494.3 554.2 495.9 555.6 496.7 C558.1 498.3 564.8 499.7 567.9 500.9 C569.9 501.6 571.1 502.2 572.7 502.9"/>
<path d="M572.7 496.7 C573 501.1 572.4 506.8 573.4 509.8 C574 511.6 575 513 576.2 513.6 C577.3 514.2 579.2 514.4 580.3 513.9 C581.4 513.4 582.2 512.1 582.7 510.5 C583.7 507.7 582.9 502.2 583 498.1"/>
<path d="M581.6 496.7 L613.2 516.6"/>
<path d="M613.2 516.6 C613.4 518 614.3 519.5 613.9 520.8 C613.4 522.3 610.5 523.5 609.8 524.9 C609.2 525.8 609.3 526.7 609.1 527.6"/>
<path d="M608.9 528.8 Q609.8 527.6 611.2 528 L613.1 528.6 Q614.6 529 613.7 530.2 L609.9 536 Q609.1 537.2 607.9 538.1 L600.7 543.2 Q599.5 544.1 598.6 542.9 L598.3 542.5 Q597.4 541.3 598.4 540.2 L606.7 531.5 Q607.7 530.4 608.6 529.2Z"/>
<ellipse cx="619.4" cy="522.8" rx="4.4" ry="3"/>
<path d="M535 518 L567.9 503.6"/>
<path d="M535 552.3 C537.7 554.1 540 556.6 543.2 557.8 C546.8 559.1 551.2 560.1 555.6 559.2 C561.5 557.9 570.2 550 574.8 548.2 C577.1 547.3 578.2 547.5 580.3 546.8 C583.1 545.9 587.1 543.6 589.9 542.7 C591.9 542 593.7 541 595.4 541.3 C596.9 541.7 599 543.3 599.5 544.8 C600 546.4 599.3 549 598.1 550.9 C596.6 553.4 592.6 555.5 589.9 557.8"/>
<ellipse cx="582.3" cy="560.5" rx="5.2" ry="3.4"/>
<path d="M573.4 568.8 C573.4 566.9 573.2 565.1 573.4 563.3 C573.6 561.4 573.6 559.1 574.8 557.8 C576.1 556.2 579.2 555.1 581.6 555 C584.2 555 588 556.4 589.9 557.8 C591.3 558.9 591.7 560.5 592.6 561.9"/>
<path d="M535 557.8 C537.7 559.6 540 562.1 543.2 563.3 C546.8 564.6 551.3 565.6 555.6 564.7 C560.8 563.5 566.6 558.2 572 555"/>
<path d="M552.8 566 L552.8 574.3"/>
<path d="M535 568.8 L555.6 579.7 L573.4 568.8 L600.8 550.9"/>
<path d="M605.5 552.3 Q605 550.9 605.9 549.8 L608.1 547.3 Q609.1 546.1 610.6 545.9 L612.4 545.7 Q613.9 545.4 614.4 546.8 L614.7 547.5 Q615.2 548.9 614.4 550.1 L612 553.8 Q611.1 555 609.7 555.3 L608.5 555.5 Q607 555.7 606.4 554.4Z"/>
<path d="M578.9 579.7 C579.1 587.1 577.5 598 579.6 601.7 C580.5 603.4 582.3 604.4 583.7 604.4 C585.1 604.4 586.9 603.4 587.8 601.7 C589.8 598 587.8 587.1 587.8 579.7"/>
<path d="M618.7 546.8 L606.3 615"/>
<path d="M548.7 605.1 L548.7 615"/>
<path d="M600.2 468.1 Q600.2 466.3 602 466.3 L604.4 466.3 Q606.2 466.3 606.2 468.1 L606.2 478.7 Q606.2 480.5 604.4 480.5 L602 480.5 Q600.2 480.5 600.2 478.7Z" stroke-width="1.5"/>
<path d="M603.3 479.6 L603.3 494.7 L576.2 477.5 L576.2 494.7" stroke-width="1.15"/>
<path d="M619 561 L599.6 650"/>
<path d="M560 624 L572 616" stroke-width="1.15"/>
<path d="M576 614 L643 571 L643 586" stroke-width="1.15"/>
<ellipse cx="643.4" cy="588.6" rx="9" ry="5"/>
<ellipse cx="643.4" cy="588.6" rx="4" ry="2"/>
<path d="M653 588 L679 585" stroke-width="1.1"/>
<path d="M639.2 629 C639.2 621.3 637.8 609.8 639.2 606 C639.7 604.6 640.4 603.9 641.4 603.4 C642.5 602.9 644.7 602.9 645.8 603.4 C646.8 603.9 647.5 604.6 648 606 C649.4 609.8 648 621.3 648 629"/>
<path d="M639.2 610.7 L648 609" stroke-width="1"/>
<path d="M639.2 614.6 L648 612.8" stroke-width="1"/>
<path d="M639.2 618.4 L648 616.6" stroke-width="1"/>
<path d="M639.2 622.2 L648 620.5" stroke-width="1"/>
<path d="M639.2 626.1 L648 624.3" stroke-width="1"/>
<ellipse cx="643.6" cy="630.6" rx="8.7" ry="3.5"/>
<path d="M634.9 630.8 C635 632.4 634.6 634.2 635.3 635.4 C636.1 636.7 638.1 637.7 639.9 638.2 C642.1 638.8 645.6 638.8 647.7 638.2 C649.6 637.6 651.6 636.3 652.3 634.9 C652.9 633.8 652.3 632.2 652.3 630.8"/>
<path d="M639.9 634.1 L639.9 638.2"/>
<path d="M647.7 634.1 L647.7 638.2"/>
<path d="M653 635 L680 637" stroke-width="1.1"/>
<path d="M470 586 L470 666.8"/>
<path d="M520 609 L520 666.8"/>
<path d="M529 607 L529 625 L534 627 L534 611"/>
<path d="M539 607 L539 635 L585.8 609"/>
<path d="M548 606 L548 623 L540 627"/>
<path d="M579 581 L579 603 L585.8 605"/>
<path d="M469.4 650 L469.4 688"/>
<path d="M449 705 L450 732 L495 759.6 L495.6 731 L449 705"/>
<path d="M449 705 L456 700 L503 728 L495.6 731"/>
<path d="M503 728 L503 756 L495 759.6"/>
<path d="M464 703 L464 692.4 L469.4 688"/>
<path d="M464 692.4 L487 708 L515.8 703.6"/>
<path d="M487 708 L487 719 L497 720.4 L498 726.4"/>
<path d="M468 754 L494 768 L510 765 L515.8 762.4"/>
<path d="M503 756 L515.8 752"/>
<path d="M466 758 C465.7 760.7 464 763.7 465 766 C466.2 768.8 470.3 771.5 474 773 C478.4 774.8 484.7 775.2 490 775 C495.3 774.8 501.4 773.3 506 772 C509.7 771 512.5 769.6 515.8 768.4"/>
<path d="M464 744 C454.7 748 444.5 751.2 436 756 C427.9 760.6 420.2 766.3 414 772 C408.5 777 403.5 782.4 400 788 C396.9 793.1 394.3 799 393.6 804 C393 808.2 393.4 812.4 395 816 C396.7 819.8 400.2 823.3 404 826 C408.3 829.1 414.3 831.2 420 833 C426.2 835 433.3 836.5 440 837 C446.6 837.5 453.4 837 460 836 C466.7 835 473.4 833 480 831 C486.7 829 493.3 826.3 500 824"/>
<path d="M394 810 C395.3 813.3 395.8 816.9 398 820 C400.7 823.7 405.2 827.3 410 830 C415.6 833.2 423.2 835.5 430 837 C436.6 838.5 443.3 839 450 839 C456.7 839 463.4 838.3 470 837 C476.7 835.7 484.5 832.9 490 831 C493.9 829.7 496.7 828.5 500 827.2"/>
<path d="M465 758 C460 760.7 455 762.8 450 766 C444.6 769.4 438.4 773.5 434 778 C429.9 782.2 426.7 787 424 792 C421.3 797 419.3 803.1 418 808 C417 812 414.8 816.8 416.4 819 C418.2 821.5 425 820.8 430 821 C436 821.3 443.7 820.9 450 820 C455.7 819.2 460.7 817.5 466 816 C471.4 814.5 476.5 812.9 482 811 C487.8 809 494 806.6 500 804.4"/>
<path d="M433 804 C433 801.5 435.6 798.4 438 796 C440.9 793 446.3 790 450 788 C452.9 786.4 456.1 783.8 458 784.4 C459.6 784.9 460.6 787.8 461 790 C461.6 792.8 461 797 460 800 C459 802.9 457.3 806.2 455 808 C452.7 809.8 449 810.7 446 811 C443 811.3 439.2 811.3 437 810 C435 808.8 433 806.2 433 804Z"/>
<ellipse cx="445.6" cy="805" rx="8" ry="4.4"/>
<ellipse cx="445.6" cy="806" rx="5" ry="2.6"/>
<path d="M446 812 L446 861.8" stroke-dasharray="2 2.5"/>
<path d="M456 812 L456 861.8" stroke-dasharray="2 2.5"/>
<path d="M425 816 L431 816" stroke-dasharray="1.5 2"/>
<path d="M459 813 L466 813" stroke-dasharray="1.5 2"/>
<path d="M415 834 L415 861.8"/>
<path d="M599 650 C596.7 660 593.8 670 592 680 C590.2 690 588.8 700.8 588 710 C587.3 717.9 587.2 725 587 732 C586.9 738.3 587.1 742.8 587 750 C586.9 760.7 586.4 779 586 790 C585.7 797.8 586.2 804 585 810 C584 815.2 582.7 819.4 580 824 C576.8 829.5 571.3 835.3 566 840 C560.6 844.7 554.1 848.3 548 852 C542.1 855.6 536 858.5 530 861.8"/>
<path d="M588 732 L638 741"/>
<path d="M520 650 L520 697" stroke-width="1.6"/>
<path d="M500 704 C504 704 508 704.3 512 704 C516 703.7 519.8 703.2 524 702 C529 700.5 534.5 697.6 540 695 C545.9 692.3 553.8 687.9 558 686 C560.2 685 561.5 683.6 563 684 C564.6 684.4 566 686.7 567 689 C568.6 692.8 569 700.3 569 706 C569 711.9 568.4 718.7 567 724 C565.8 728.5 564.3 732.6 562 736 C559.9 739.2 557.6 741.2 554 744 C548.3 748.4 537.5 754 530 758 C523.6 761.4 517.5 765 512 767 C507.7 768.6 504 769 500 770"/>
<path d="M548 691 C551.7 689.7 556.4 686.2 559 687 C561 687.7 562.1 690.3 563 693 C564.4 697.1 564.3 704.3 564 710 C563.7 715.9 562.7 723.1 561 728 C559.7 731.6 558.9 734.1 556 737 C551.3 741.7 540 745.7 532 750"/>
<path d="M516 705 L516 754"/>
<path d="M524 702.4 L526 705 L526 756"/>
<path d="M526 705 L531 708 L531 754 L526 756"/>
<path d="M548 691 L548 738 L533 746"/>
<path d="M542 697.6 L542 734 L533 740"/>
<path d="M500 728 L503 728 L503 758"/>
<path d="M500 759 L508 762 L510 766"/>
<path d="M510 761 L526 754"/>
<path d="M500 805 C506.7 802 513.4 799.4 520 796 C526.8 792.5 533.8 788.2 540 784 C545.7 780.1 551.5 775.7 556 772 C559.5 769.1 562 766.7 565 764"/>
<path d="M565 764 C562 768.7 560 773.3 556 778 C550.9 784 542.8 790.3 536 796 C529.4 801.6 522.3 807.1 516 812 C510.4 816.3 505.3 820 500 824"/>
<path d="M500 816 C506.7 812 513.5 808.5 520 804 C526.8 799.3 533.4 793.6 540 788 C546.8 782.3 553.3 776 560 770"/>
<path d="M500 827.6 C504 825.4 508.3 823.5 512 821 C515.6 818.6 518.7 815.7 522 813"/>
<path d="M415 850 L415 894.6 Q415 895.6 415.9 896.1 L418.1 897.5 Q419 898 420 898 L430 898"/>
<rect x="422.4" y="893.0" width="3" height="3" fill="#222" stroke="none"/>
<path d="M418 897.6 C424 897.4 429.6 897.6 436 897 C443.4 896.3 451.9 894.9 460 893 C468.6 891 477.2 888.4 486 885 C495.7 881.2 505.9 875.7 515.8 871"/>
<path d="M446 850 L446 896" stroke-dasharray="2 2.5"/>
<path d="M456 850 L456 896" stroke-dasharray="2 2.5"/>
<path d="M446 900 L446 924.4" stroke-width="1.2"/>
<path d="M455 897 L455 903.6 L470 915" stroke-width="1.2"/>
<path d="M474 918 L479 921" stroke-width="1.2"/>
<path d="M483 923.4 L495.6 930 L495.6 980" stroke-width="1.2"/>
<path d="M495.6 988 L495.6 1000" stroke-width="1.2"/>
<ellipse cx="447" cy="928.4" rx="10" ry="5"/>
<ellipse cx="447" cy="928" rx="4.4" ry="2"/>
<path d="M437 929 C437.1 931.2 436.1 933.8 437.2 935.6 C438.7 937.9 443.7 940.4 447 940.4 C450.3 940.4 455.3 937.9 456.8 935.6 C457.9 933.8 456.9 931.2 457 929"/>
<path d="M457 932 C457 932.2 457 932.5 456.9 932.7 C456.8 932.9 456.7 933.2 456.6 933.4 C456.5 933.6 456.3 933.9 456.1 934.1 C455.9 934.3 455.7 934.5 455.4 934.7 C455.2 934.9 454.9 935.1 454.6 935.3 C454.2 935.5 453.9 935.6 453.5 935.8 C453.2 935.9 452.8 936.1 452.4 936.2 C452 936.3 451.6 936.5 451.2 936.5 C450.7 936.6 450.3 936.7 449.8 936.8 C449.4 936.9 448.9 936.9 448.4 936.9 C448 937 447.5 937 447 937 C446.5 937 446 937 445.6 936.9 C445.1 936.9 444.6 936.9 444.2 936.8 C443.7 936.7 443.3 936.6 442.8 936.5 C442.4 936.5 442 936.3 441.6 936.2 C441.2 936.1 440.8 935.9 440.5 935.8 C440.1 935.6 439.8 935.5 439.4 935.3 C439.1 935.1 438.8 934.9 438.6 934.7 C438.3 934.5 438.1 934.3 437.9 934.1 C437.7 933.9 437.5 933.6 437.4 933.4 C437.3 933.2 437.2 932.9 437.1 932.7 C437 932.5 437 932.2 437 932"/>
<path d="M396 927 L436 932"/>
<path d="M423 956 C423.3 954.3 425.6 952.6 428 951 C432 948.4 439.9 945.2 446 944 C451.9 942.8 459.8 942.3 464 943.6 C466.7 944.5 469.4 946.2 470 948 C470.5 949.7 469.6 952.2 468 954 C465.5 956.8 459.4 959.6 454 961 C447.6 962.7 437.2 963.1 432 962.4 C429 962 426.5 961.3 425 960 C423.8 959 422.8 957.3 423 956Z" stroke-width="1.7"/>
<ellipse cx="447" cy="953" rx="5.6" ry="3.6"/>
<ellipse cx="430" cy="957" rx="3" ry="1.8"/>
<ellipse cx="465" cy="949" rx="3" ry="1.8"/>
<path d="M396 959 L422.4 958"/>
<path d="M460.2 976.4 C460.2 972.9 459.5 968.1 460.2 966 C460.6 965 461.1 964.4 461.9 964 C462.8 963.6 464.4 963.6 465.3 964 C466.1 964.4 466.6 965 467 966 C467.7 968.1 467 972.9 467 976.4"/>
<path d="M460.2 970.2 L467 968.8" stroke-width="1"/>
<path d="M460.2 973.6 L467 972.3" stroke-width="1"/>
<ellipse cx="463.6" cy="977.7" rx="7.2" ry="2.9"/>
<path d="M456.4 977.9 C456.5 979.3 456.1 980.9 456.8 982 C457.4 983.1 459.1 983.9 460.6 984.3 C462.4 984.8 465.2 984.8 467 984.3 C468.5 983.8 470.2 982.8 470.8 981.6 C471.4 980.6 470.8 979.2 470.8 977.9"/>
<path d="M460.6 980.6 L460.6 984.3"/>
<path d="M467 980.6 L467 984.3"/>
<path d="M396 987 L456 980"/>
<ellipse cx="495.6" cy="981.6" rx="7.6" ry="4.4" stroke-width="1.0" stroke="#666"/>
<ellipse cx="495.6" cy="981.6" rx="3.2" ry="1.6" stroke-width="1.0" stroke="#666"/>
<ellipse cx="495" cy="1001.6" rx="8" ry="4.4"/>
<ellipse cx="495" cy="1001.6" rx="3.6" ry="1.8"/>
<path d="M477 988 L488 980 L491 983 L481 991 L477 988" stroke-width="1.1"/>
<path d="M477 988 C475 989.3 472.3 990.3 471 992 C469.7 993.6 468.9 996 469 998 C469.1 1000 470.5 1002.5 472 1004 C473.5 1005.5 476 1006 478 1007" stroke-width="1.1"/>
<path d="M481 991 C479.3 992.3 477 993.4 476 995 C475.1 996.4 474.5 998.7 475 1000 C475.5 1001.3 477.7 1002 479 1003" stroke-width="1.1"/>
<path d="M482 984.4 L485 987.6" stroke-width="1"/>
<path d="M484.4 982.8 L487.6 985.6" stroke-width="1"/>
<path d="M491.4 1023.6 C491.4 1020.1 490.6 1015.3 491.4 1013.2 C491.8 1012.1 492.4 1011.4 493.2 1011 C494.1 1010.6 495.9 1010.6 496.8 1011 C497.6 1011.4 498.2 1012.1 498.6 1013.2 C499.4 1015.3 498.6 1020.1 498.6 1023.6"/>
<path d="M491.4 1017.4 L498.6 1015.9" stroke-width="1"/>
<path d="M491.4 1020.8 L498.6 1019.4" stroke-width="1"/>
<ellipse cx="495" cy="1024.9" rx="7.2" ry="2.9"/>
<path d="M487.8 1025.1 C487.9 1026.5 487.5 1028.1 488.2 1029.2 C488.8 1030.3 490.5 1031.1 492 1031.5 C493.8 1032 496.6 1032 498.4 1031.5 C499.9 1031 501.6 1030 502.2 1028.8 C502.8 1027.8 502.2 1026.4 502.2 1025.1"/>
<path d="M492 1027.8 L492 1031.5"/>
<path d="M498.4 1027.8 L498.4 1031.5"/>
<path d="M480 887 C486.7 884 493 881.5 500 878 C508.2 874 517.5 868.7 526 864 C534.2 859.4 542 854.7 550 850"/>
<path d="M490 889 L489 903 L500 897" stroke-width="1.2"/>
<path d="M505 894.4 L510 892" stroke-width="1.2"/>
<path d="M514.4 889.4 L552 866 L552 891" stroke-width="1.2"/>
<ellipse cx="552.4" cy="895" rx="17" ry="9"/>
<ellipse cx="552.4" cy="895" rx="10.4" ry="5.2"/>
<ellipse cx="552.4" cy="895.6" rx="6" ry="2.8"/>
<path d="M535.4 895.6 L535.4 920"/>
<path d="M569.4 895.6 L569.4 920"/>
<path d="M569.4 907 C569.3 907.4 569.3 907.9 569.2 908.3 C569.1 908.7 568.9 909.1 568.7 909.5 C568.5 910 568.2 910.4 567.9 910.7 C567.5 911.1 567.1 911.5 566.7 911.9 C566.3 912.2 565.8 912.6 565.2 912.9 C564.7 913.2 564.1 913.5 563.5 913.8 C562.9 914.1 562.3 914.3 561.6 914.6 C560.9 914.8 560.2 915 559.5 915.2 C558.7 915.4 558 915.5 557.2 915.6 C556.4 915.8 555.6 915.8 554.8 915.9 C554 916 553.2 916 552.4 916 C551.6 916 550.8 916 550 915.9 C549.2 915.8 548.4 915.8 547.6 915.6 C546.8 915.5 546.1 915.4 545.3 915.2 C544.6 915 543.9 914.8 543.2 914.6 C542.5 914.3 541.9 914.1 541.3 913.8 C540.7 913.5 540.1 913.2 539.6 912.9 C539 912.6 538.5 912.2 538.1 911.9 C537.7 911.5 537.3 911.1 536.9 910.7 C536.6 910.4 536.3 910 536.1 909.5 C535.9 909.1 535.7 908.7 535.6 908.3 C535.5 907.9 535.5 907.4 535.4 907"/>
<path d="M569.4 910 C569.3 910.4 569.3 910.9 569.2 911.3 C569.1 911.7 568.9 912.1 568.7 912.5 C568.5 913 568.2 913.4 567.9 913.7 C567.5 914.1 567.1 914.5 566.7 914.9 C566.3 915.2 565.8 915.6 565.2 915.9 C564.7 916.2 564.1 916.5 563.5 916.8 C562.9 917.1 562.3 917.3 561.6 917.6 C560.9 917.8 560.2 918 559.5 918.2 C558.7 918.4 558 918.5 557.2 918.6 C556.4 918.8 555.6 918.8 554.8 918.9 C554 919 553.2 919 552.4 919 C551.6 919 550.8 919 550 918.9 C549.2 918.8 548.4 918.8 547.6 918.6 C546.8 918.5 546.1 918.4 545.3 918.2 C544.6 918 543.9 917.8 543.2 917.6 C542.5 917.3 541.9 917.1 541.3 916.8 C540.7 916.5 540.1 916.2 539.6 915.9 C539 915.6 538.5 915.2 538.1 914.9 C537.7 914.5 537.3 914.1 536.9 913.7 C536.6 913.4 536.3 913 536.1 912.5 C535.9 912.1 535.7 911.7 535.6 911.3 C535.5 910.9 535.5 910.4 535.4 910"/>
<path d="M569.4 920 C569.3 920.4 569.3 920.9 569.2 921.3 C569.1 921.7 568.9 922.1 568.7 922.5 C568.5 923 568.2 923.4 567.9 923.7 C567.5 924.1 567.1 924.5 566.7 924.9 C566.3 925.2 565.8 925.6 565.2 925.9 C564.7 926.2 564.1 926.5 563.5 926.8 C562.9 927.1 562.3 927.3 561.6 927.6 C560.9 927.8 560.2 928 559.5 928.2 C558.7 928.4 558 928.5 557.2 928.6 C556.4 928.8 555.6 928.8 554.8 928.9 C554 929 553.2 929 552.4 929 C551.6 929 550.8 929 550 928.9 C549.2 928.8 548.4 928.8 547.6 928.6 C546.8 928.5 546.1 928.4 545.3 928.2 C544.6 928 543.9 927.8 543.2 927.6 C542.5 927.3 541.9 927.1 541.3 926.8 C540.7 926.5 540.1 926.2 539.6 925.9 C539 925.6 538.5 925.2 538.1 924.9 C537.7 924.5 537.3 924.1 536.9 923.7 C536.6 923.4 536.3 923 536.1 922.5 C535.9 922.1 535.7 921.7 535.6 921.3 C535.5 920.9 535.5 920.4 535.4 920"/>
<path d="M539 902.5 L539 911.9" stroke-width="0.9" stroke="#555"/>
<path d="M539 915.5 L539 925.1" stroke-width="0.9" stroke="#555"/>
<path d="M543 904.5 L543 913.9" stroke-width="0.9" stroke="#555"/>
<path d="M543 917.5 L543 927.1" stroke-width="0.9" stroke="#555"/>
<path d="M547.6 905.6 L547.6 915" stroke-width="0.9" stroke="#555"/>
<path d="M547.6 918.6 L547.6 928.2" stroke-width="0.9" stroke="#555"/>
<path d="M560 905.1 L560 914.5" stroke-width="0.9" stroke="#555"/>
<path d="M560 918.1 L560 927.7" stroke-width="0.9" stroke="#555"/>
<path d="M564 903.6 L564 913" stroke-width="0.9" stroke="#555"/>
<path d="M564 916.6 L564 926.2" stroke-width="0.9" stroke="#555"/>
<path d="M567 901.6 L567 911" stroke-width="0.9" stroke="#555"/>
<path d="M567 914.6 L567 924.2" stroke-width="0.9" stroke="#555"/>
<path d="M555 904.4 L555 928.4" stroke-width="2"/>
<path d="M569.4 902.4 L601 898"/>
<path d="M558.4 934.4 C554.3 934.1 549.6 932.8 546 933.6 C542.9 934.3 539.6 936 538 938 C536.6 939.6 535.6 942.1 536 944 C536.5 946.2 539.5 948.5 542 950 C544.9 951.7 549.3 952.8 553 953 C556.6 953.2 561.2 952.5 564 951 C566.2 949.8 568.1 947.8 569 946 C569.8 944.5 570.2 942.2 569.6 941 C569.1 939.9 567.2 939.7 566 939" stroke-width="1.5"/>
<path d="M560 937.6 C556.3 937.4 552.1 936.3 549 937 C546.4 937.5 543.6 938.8 542.4 940.4 C541.5 941.7 541 943.7 541.6 945 C542.3 946.5 544.9 947.7 547 948.4 C549.3 949.2 552.4 949.6 555 949.4 C557.4 949.2 560.1 948.5 562 947.4 C563.5 946.5 565.4 945.2 565.6 944 C565.8 943 564.5 942 564 941" stroke-width="1.2"/>
<path d="M570 943 L600 942.4"/>
<path d="M480 920 L495 930"/>
<path d="M503 1001 L527 998.4"/>
<path d="M503 1027 L527 1028"/>
<path d="M195.8 39.8 Q195.8 38 197.6 38 L199.6 38 Q201.4 38 201.4 39.8 L201.4 51.7 Q201.4 53.5 199.6 53.5 L197.6 53.5 Q195.8 53.5 195.8 51.7Z" stroke-width="1.5"/>
<path d="M173 46 L195 45.4"/>
<path d="M221.6 58.3 Q221.6 56.5 223.4 56.5 L225.4 56.5 Q227.2 56.5 227.2 58.3 L227.2 70.2 Q227.2 72 225.4 72 L223.4 72 Q221.6 72 221.6 70.2Z" stroke-width="1.5"/>
<path d="M228.5 61.3 L250 49"/>
<path d="M198.6 54 L198.6 80" stroke-width="1.5" stroke="#444"/>
<path d="M224.5 72.5 L224.5 80" stroke-width="1.5" stroke="#444"/>
<ellipse cx="358.1" cy="40.4" rx="7.7" ry="4.7"/>
<ellipse cx="358.1" cy="40.4" rx="4.4" ry="2.5"/>
<path d="M350.5 40.4 L350.5 50.9"/>
<path d="M365.8 40.4 L365.8 50.9"/>
<path d="M350.5 44.7 C353 46.3 355.6 49.4 358.1 49.4 C360.7 49.4 363.3 46.3 365.8 44.7"/>
<path d="M350.5 47.8 C353 49.3 355.6 52.5 358.1 52.5 C360.7 52.5 363.3 49.3 365.8 47.8"/>
<path d="M350.5 50.9 C353 52.4 355.6 55.6 358.1 55.6 C360.7 55.6 363.3 52.4 365.8 50.9"/>
<path d="M352.8 53.3 L353.2 67.2 L363.6 61.4 L364 53.3" stroke-width="1.5"/>
<path d="M353.5 66.7 L362.3 54.8" stroke-width="1.5"/>
<path d="M365.8 45.3 L394.2 38.5"/>
<ellipse cx="496.7" cy="212.2" rx="7.4" ry="3.7" stroke-width="1.1"/>
<ellipse cx="496.7" cy="212.2" rx="3.2" ry="1.5" stroke-width="1"/>
<path d="M467 209.6 L489 211.5"/>
<path d="M466.3 250.4 L488.5 250.4"/>
<path d="M492.6 246 C492.6 239.4 491.4 229.4 492.6 226.2 C493 225 493.6 224.4 494.4 224 C495.3 223.6 497.1 223.6 498 224 C498.8 224.4 499.4 225 499.8 226.2 C501 229.4 499.8 239.4 499.8 246"/>
<path d="M492.6 230.2 L499.8 228.7" stroke-width="1"/>
<path d="M492.6 233.5 L499.8 232.1" stroke-width="1"/>
<path d="M492.6 236.8 L499.8 235.4" stroke-width="1"/>
<path d="M492.6 240.1 L499.8 238.7" stroke-width="1"/>
<path d="M492.6 243.4 L499.8 242" stroke-width="1"/>
<ellipse cx="496.2" cy="247.4" rx="7.4" ry="2.9"/>
<path d="M488.8 247.6 C488.9 248.9 488.5 250.5 489.2 251.5 C489.9 252.6 491.5 253.4 493.1 253.8 C494.9 254.4 497.9 254.4 499.7 253.8 C501.3 253.3 503 252.3 503.6 251.1 C504.1 250.1 503.6 248.7 503.6 247.6"/>
<path d="M493.1 250.3 L493.1 253.8"/>
<path d="M499.7 250.3 L499.7 253.8"/>
<ellipse cx="557.5" cy="445.2" rx="25.6" ry="13.6"/>
<ellipse cx="557.5" cy="445.5" rx="18.7" ry="9"/>
<path d="M531.9 445.5 L531.9 460.5"/>
<path d="M583.1 445.5 L583.1 460.5"/>
<path d="M583.1 460.5 C583 461.1 583 461.8 582.8 462.4 C582.7 463.1 582.4 463.7 582.1 464.3 C581.7 465 581.3 465.6 580.8 466.1 C580.3 466.8 579.7 467.3 579 467.9 C578.4 468.4 577.6 468.9 576.8 469.4 C576 469.9 575.2 470.4 574.3 470.8 C573.3 471.2 572.3 471.6 571.3 471.9 C570.3 472.3 569.2 472.6 568.1 472.9 C567 473.1 565.9 473.4 564.7 473.5 C563.5 473.7 562.3 473.9 561.1 474 C559.9 474.1 558.7 474.1 557.5 474.1 C556.3 474.1 555.1 474.1 553.9 474 C552.7 473.9 551.5 473.7 550.3 473.5 C549.1 473.4 548 473.1 546.9 472.9 C545.8 472.6 544.7 472.3 543.7 471.9 C542.7 471.6 541.7 471.2 540.7 470.8 C539.8 470.4 539 469.9 538.2 469.4 C537.4 468.9 536.6 468.4 536 467.9 C535.3 467.3 534.7 466.8 534.2 466.1 C533.7 465.6 533.3 465 532.9 464.3 C532.6 463.7 532.3 463.1 532.2 462.4 C532 461.8 532 461.1 531.9 460.5"/>
<path d="M541.1 449.3 C541.4 448.9 541.7 448.5 542.1 448.2 C542.5 447.9 542.9 447.5 543.4 447.2 C543.9 446.9 544.5 446.6 545.1 446.4 C545.7 446.1 546.3 445.8 547 445.6 C547.6 445.4 548.3 445.2 549.1 445 C549.8 444.8 550.6 444.6 551.3 444.5 C552.1 444.4 552.9 444.3 553.8 444.2 C554.6 444.1 555.4 444 556.2 444 C557.1 444 557.9 444 558.8 444 C559.6 444 560.4 444.1 561.2 444.2 C562.1 444.3 562.9 444.4 563.7 444.5 C564.4 444.6 565.2 444.8 565.9 445 C566.7 445.2 567.4 445.4 568 445.6 C568.7 445.8 569.3 446.1 569.9 446.4 C570.5 446.6 571.1 446.9 571.6 447.2 C572.1 447.5 572.5 447.9 572.9 448.2 C573.3 448.5 573.6 448.9 573.9 449.3"/>
<path d="M582.2 449.7 L635.4 441.5"/>
<path d="M607.3 474.4 L634.5 475.4"/>
<ellipse cx="101.2" cy="296.6" rx="28.4" ry="28.4" stroke-width="1.6"/>
<path d="M99.1 281.2 L99.1 315.1"/>
<path d="M114.5 281.2 L114.5 313"/>
<path d="M109.4 282.2 L109.4 315.7" stroke-width="1"/>
<path d="M103.8 282.2 L103.8 315.7" stroke-width="0.9" stroke="#777"/>
<ellipse cx="106.7" cy="280.7" rx="7.6" ry="2.1"/>
<path d="M99.1 315.1 C100.8 315.6 102.5 316.4 104.2 316.5 C105.9 316.6 107.7 316.3 109.4 315.7 C111.1 315.1 112.8 313.9 114.5 313"/>
<path d="M106.3 271.9 L106.3 320.2" stroke-width="1" stroke-dasharray="7 2 1.5 2"/>
<path d="M97.4 287.7 C93.5 287.7 88.3 287.1 85.7 287.7 C84.3 288.1 83.2 288.5 82.6 289.4 C82 290.4 82.3 291.8 82.2 293.5 C82.1 296.1 80.8 301.6 82.2 303.4 C83.4 304.9 86.6 304.3 88.8 304.8" stroke-width="3.4" stroke="#111"/>
<path d="M97.4 293.1 C95.9 293.1 93.9 292.4 92.9 293.1 C92 293.7 91.5 295.4 91.5 296.6 C91.4 297.7 91.7 299.4 92.5 300.1 C93.5 300.9 95.8 300.4 97.4 300.5" stroke-width="3" stroke="#111"/>
<path d="M92.2 968.4 L106 941.6 L111.3 948.4 L135.4 933.4 L139.9 936 L140.5 956.6 L111.7 973.1 L111.3 980.7 L92.2 968.4" stroke-width="1.5"/>
<path d="M95.7 969 L108.4 944.7" stroke-width="1"/>
<path d="M111.7 951.3 L136.4 936.9 L139.9 936" stroke-width="1"/>
<path d="M136.4 936.9 L136.8 958.3 L112.1 972.7" stroke-width="1"/>
</g>
<g class="tx">
<text transform="translate(110.90534979423867 969.3827160493827) rotate(-30) skewX(-14)" font-size="16" font-weight="bold" textLength="27.5" lengthAdjust="spacingAndGlyphs">FWD</text>
<text x="66.9" y="1003.3" font-size="14.4" textLength="109" lengthAdjust="spacingAndGlyphs">6AH1100-F280</text>
<text x="119.5" y="91" font-size="16.4" font-weight="normal" text-anchor="start">1</text>
<text x="161" y="52.3" font-size="16.4" font-weight="normal" text-anchor="start">6</text>
<text x="252" y="53" font-size="16.4" font-weight="normal" text-anchor="start">6</text>
<text x="397.3" y="44.1" font-size="16.4" font-weight="normal" text-anchor="start">3</text>
<text x="641" y="78.1" font-size="16.4" font-weight="normal" text-anchor="start">7</text>
<text x="640.4" y="188" font-size="16.4" font-weight="normal" text-anchor="start">8</text>
<text x="445.6" y="213.3" font-size="16.4" font-weight="normal" text-anchor="start">10</text>
<text x="455" y="256" font-size="16.4" font-weight="normal" text-anchor="start">9</text>
<text x="336.3" y="270.7" font-size="16.4" font-weight="normal" text-anchor="start">5</text>
<text x="364.7" y="287.1" font-size="16.4" font-weight="normal" text-anchor="start">4</text>
<text x="141.3" y="343.9" font-size="16.4" font-weight="normal" text-anchor="start">2</text>
<text x="638.4" y="447.6" font-size="16.4" font-weight="normal" text-anchor="start">11</text>
<text x="482.2" y="466.3" font-size="16.4" font-weight="normal" text-anchor="start">15</text>
<text x="638.9" y="480.2" font-size="16.4" font-weight="normal" text-anchor="start">15</text>
<text x="681" y="590.2" font-size="16.4" font-weight="normal" text-anchor="start">14</text>
<text x="681" y="643.3" font-size="16.4" font-weight="normal" text-anchor="start">13</text>
<text x="641.8" y="746.2" font-size="16.4" font-weight="normal" text-anchor="start">12</text>
<text x="372" y="932.8" font-size="16.4" font-weight="normal" text-anchor="start">20</text>
<text x="372" y="964.2" font-size="16.4" font-weight="normal" text-anchor="start">18</text>
<text x="372" y="993.8" font-size="16.4" font-weight="normal" text-anchor="start">19</text>
<text x="602" y="903.8" font-size="16.4" font-weight="normal" text-anchor="start">21</text>
<text x="602" y="948.2" font-size="16.4" font-weight="normal" text-anchor="start">22</text>
<text x="530" y="1004.2" font-size="16.4" font-weight="normal" text-anchor="start">17</text>
<text x="530" y="1034.8" font-size="16.4" font-weight="normal" text-anchor="start">16</text>
</g>
</g>
</svg>
</body></html>
